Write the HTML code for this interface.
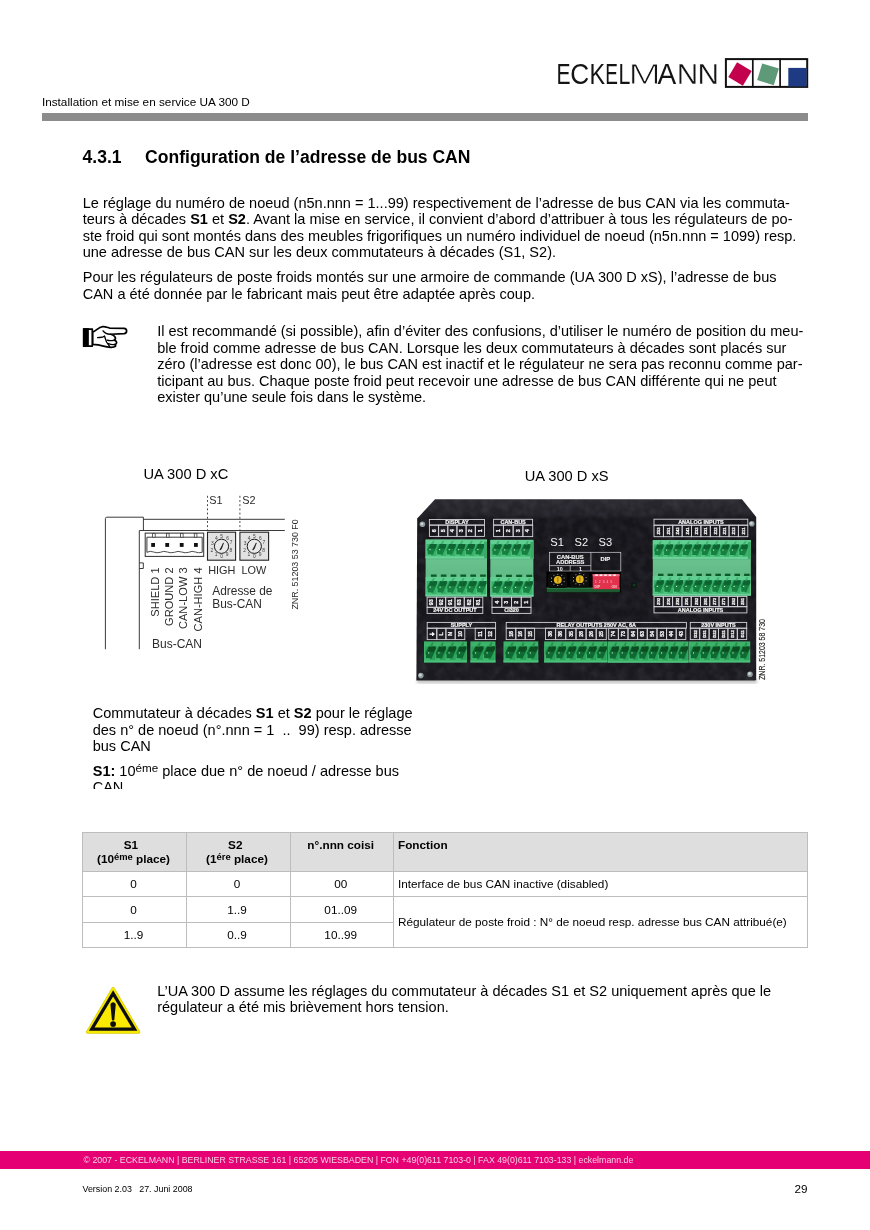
<!DOCTYPE html>
<html lang="fr"><head><meta charset="utf-8"><title>UA 300 D - Configuration de l'adresse de bus CAN</title>
<style>
html,body{margin:0;padding:0;background:#fff;}
body{width:870px;height:1230px;position:relative;overflow:hidden;font-family:"Liberation Sans",Arial,sans-serif;color:#000;}
.t{position:absolute;white-space:pre;line-height:16px;height:16px;}
b{font-weight:bold;}
.abs{position:absolute;}
sup.s{font-size:80%;vertical-align:baseline;position:relative;top:-0.36em;line-height:0;}
#page{position:absolute;left:0;top:0;width:870px;height:1230px;will-change:transform;}
</style></head><body><div id="page">
<div class="t" style="left:41.90px;top:93.82px;font-size:11.78px;">Installation et mise en service UA 300 D</div>
<div class="abs" style="left:41.5px;top:113.2px;width:766.5px;height:7.8px;background:#8c8c8c;"></div>
<svg class="abs" style="left:550px;top:50px;" width="270" height="45" viewBox="550 50 270 45" role="img" aria-label="ECKELMANN"><title>ECKELMANN</title>
<text y="84.1" font-family="Liberation Sans, Arial, sans-serif" font-size="29.0" fill="#141414"><tspan x="556.57" textLength="14.03" lengthAdjust="spacingAndGlyphs">E</tspan><tspan x="570.37" textLength="18.93" lengthAdjust="spacingAndGlyphs">C</tspan><tspan x="589.48" textLength="15.58" lengthAdjust="spacingAndGlyphs">K</tspan><tspan x="605.34" textLength="12.68" lengthAdjust="spacingAndGlyphs">E</tspan><tspan x="618.55" textLength="11.86" lengthAdjust="spacingAndGlyphs">L</tspan><tspan x="628.52" textLength="32.25" lengthAdjust="spacingAndGlyphs" stroke="#fff" stroke-width="0.8" paint-order="fill stroke">M</tspan><tspan x="657.55" textLength="18.71" lengthAdjust="spacingAndGlyphs">A</tspan><tspan x="676.86" textLength="21.46" lengthAdjust="spacingAndGlyphs" stroke="#fff" stroke-width="0.3" paint-order="fill stroke">N</tspan><tspan x="697.56" textLength="21.46" lengthAdjust="spacingAndGlyphs" stroke="#fff" stroke-width="0.3" paint-order="fill stroke">N</tspan></text>
<rect x="725.9" y="59.1" width="81.3" height="27.8" fill="#fff" stroke="#111" stroke-width="2"/>
<line x1="752.8" y1="58.5" x2="752.8" y2="87.5" stroke="#111" stroke-width="1.7"/>
<line x1="780.1" y1="58.5" x2="780.1" y2="87.5" stroke="#111" stroke-width="1.7"/>
<rect x="-8.5" y="-8.5" width="17" height="17" fill="#c2004c" transform="translate(740 74.0) rotate(31)"/>
<rect x="-8.7" y="-8.7" width="17.4" height="17.4" fill="#5e9a78" transform="translate(768 74.3) rotate(17)"/>
<rect x="788.3" y="67.9" width="18.2" height="18.6" fill="#1d3a82"/>
</svg>

<div class="t" style="left:82.60px;top:149.12px;font-size:17.55px;"><b>4.3.1</b></div>
<div class="t" style="left:145.10px;top:149.12px;font-size:17.55px;"><b>Configuration de l’adresse de bus CAN</b></div>
<div class="t" style="left:82.70px;top:194.66px;font-size:14.54px;">Le réglage du numéro de noeud (n5n.nnn = 1...99) respectivement de l’adresse de bus CAN via les commuta-</div>
<div class="t" style="left:82.70px;top:211.21px;font-size:14.54px;">teurs à décades <b>S1</b> et <b>S2</b>. Avant la mise en service, il convient d’abord d’attribuer à tous les régulateurs de po-</div>
<div class="t" style="left:82.70px;top:227.76px;font-size:14.54px;">ste froid qui sont montés dans des meubles frigorifiques un numéro individuel de noeud (n5n.nnn = 1099) resp.</div>
<div class="t" style="left:82.70px;top:244.31px;font-size:14.54px;">une adresse de bus CAN sur les deux commutateurs à décades (S1, S2).</div>
<div class="t" style="left:82.70px;top:269.36px;font-size:14.54px;">Pour les régulateurs de poste froids montés sur une armoire de commande (UA 300 D xS), l’adresse de bus</div>
<div class="t" style="left:82.70px;top:285.91px;font-size:14.54px;">CAN a été donnée par le fabricant mais peut être adaptée après coup.</div>
<div class="t" style="left:157.20px;top:323.26px;font-size:14.54px;">Il est recommandé (si possible), afin d’éviter des confusions, d’utiliser le numéro de position du meu-</div>
<div class="t" style="left:157.20px;top:339.81px;font-size:14.54px;">ble froid comme adresse de bus CAN. Lorsque les deux commutateurs à décades sont placés sur</div>
<div class="t" style="left:157.20px;top:356.36px;font-size:14.54px;">zéro (l’adresse est donc 00), le bus CAN est inactif et le régulateur ne sera pas reconnu comme par-</div>
<div class="t" style="left:157.20px;top:372.91px;font-size:14.54px;">ticipant au bus. Chaque poste froid peut recevoir une adresse de bus CAN différente qui ne peut</div>
<div class="t" style="left:157.20px;top:389.46px;font-size:14.54px;">exister qu’une seule fois dans le système.</div>
<svg class="abs" style="left:70px;top:310px;" width="100" height="60" viewBox="0 0 870 522">
<g fill="#fff" stroke="#000" stroke-width="15" stroke-linejoin="round" stroke-linecap="round">
<path d="M197 190 C225 185 245 150 285 145 C305 143 325 152 345 157 L470 160 C500 162 500 203 470 206 L355 211 C395 222 405 250 385 262 C412 270 412 295 390 300 C405 312 395 325 360 325 C320 326 280 305 197 300 Z"/>
<path d="M288 182 C300 200 325 212 355 211" fill="none" stroke-width="13"/>
<path d="M240 240 C265 238 285 240 300 228" fill="none" stroke-width="12"/>
<path d="M385 262 C360 268 340 268 325 262" fill="none" stroke-width="12"/>
<path d="M390 300 C370 303 350 300 335 292" fill="none" stroke-width="12"/>
<path d="M300 228 C305 250 315 285 345 318" fill="none" stroke-width="12"/>
<rect x="120" y="166" width="74" height="148"/>
</g>
<rect x="112" y="158" width="52" height="164" fill="#000"/>
</svg>

<div class="t" style="left:143.40px;top:465.81px;font-size:14.7px;">UA 300 D xC</div>
<div class="t" style="left:524.70px;top:467.92px;font-size:14.66px;">UA 300 D xS</div>
<svg class="abs" style="left:95px;top:485px;" width="215" height="175" viewBox="95 485 215 175" font-family="Liberation Sans, Arial, sans-serif">
<path d="M105.4 649.2 V518.6 Q105.4 517.2 106.8 517.2 H143.4 V530.5" stroke="#3a3a3a" stroke-width="1" fill="none"/>
<path d="M143.4 519.3 H284.8 M139.3 530.5 H284.8 M139.3 530.5 V649.2 M139.3 562.9 H143.3 V568.5 H139.3" stroke="#3a3a3a" stroke-width="1" fill="none"/>
<rect x="145.2" y="533.1" width="58.5" height="23.3" fill="#fff" stroke="#2e2e2e" stroke-width="1"/>
<path d="M146.9 552.4 V537.2 H202.2 V552.4" stroke="#3a3a3a" stroke-width="1" fill="none"/>
<path d="M146.9 552.3 Q150.2 550.6 153.6 552.0 T160.2 552.3 Q163.8 550.6 167.3 552.0 T174.4 552.3 Q178.0 550.6 181.6 552.0 T188.7 552.3 Q192.1 550.6 195.4 552.0 T202.2 552.3 " stroke="#3a3a3a" stroke-width="0.9" fill="none"/>
<rect x="152.6" y="533.6" width="2.6" height="3.6" fill="#fff" stroke="#3a3a3a" stroke-width="0.8"/>
<rect x="166.5" y="533.6" width="2.6" height="3.6" fill="#fff" stroke="#3a3a3a" stroke-width="0.8"/>
<rect x="180.5" y="533.6" width="2.6" height="3.6" fill="#fff" stroke="#3a3a3a" stroke-width="0.8"/>
<rect x="194.3" y="533.6" width="2.6" height="3.6" fill="#fff" stroke="#3a3a3a" stroke-width="0.8"/>
<rect x="151.2" y="543.0" width="3.8" height="3.9" fill="#111"/>
<rect x="165.3" y="543.0" width="3.8" height="3.9" fill="#111"/>
<rect x="179.8" y="543.0" width="3.8" height="3.9" fill="#111"/>
<rect x="194.0" y="543.0" width="3.8" height="3.9" fill="#111"/>
<line x1="207.5" y1="495.8" x2="207.5" y2="530.4" stroke="#333" stroke-width="0.9" stroke-dasharray="1.9 2.3"/>
<line x1="239.9" y1="495.8" x2="239.9" y2="530.4" stroke="#333" stroke-width="0.9" stroke-dasharray="1.9 2.3"/>
<rect x="207.5" y="532.2" width="28.1" height="28.0" fill="#e2e2e2" stroke="#222" stroke-width="1.1"/>
<circle cx="221.5" cy="546.3" r="7.1" fill="#e9e9e9" stroke="#1a1a1a" stroke-width="1"/>
<path d="M219.8 549.9 L223.5 542.9 L221.7 548.3 Q220.9 550.1 219.8 549.9 Z" fill="#111" stroke="#111" stroke-width="0.6" stroke-linejoin="round"/>
<text x="221.5" y="537.8" font-size="4.9" text-anchor="middle" fill="#3c3c3c">5</text>
<text x="216.4" y="539.7" font-size="4.9" text-anchor="middle" fill="#3c3c3c">4</text>
<text x="227.6" y="539.7" font-size="4.9" text-anchor="middle" fill="#3c3c3c">6</text>
<text x="212.3" y="544.5" font-size="4.9" text-anchor="middle" fill="#3c3c3c">3</text>
<text x="231.0" y="543.8" font-size="4.9" text-anchor="middle" fill="#3c3c3c">7</text>
<text x="211.8" y="551.9" font-size="4.9" text-anchor="middle" fill="#3c3c3c">2</text>
<text x="230.8" y="551.9" font-size="4.9" text-anchor="middle" fill="#3c3c3c">8</text>
<text x="216.1" y="556.2" font-size="4.9" text-anchor="middle" fill="#3c3c3c">1</text>
<text x="227.2" y="556.4" font-size="4.9" text-anchor="middle" fill="#3c3c3c">9</text>
<text x="221.5" y="558.4" font-size="4.9" text-anchor="middle" fill="#3c3c3c">0</text>
<rect x="239.9" y="532.2" width="28.7" height="28.0" fill="#e2e2e2" stroke="#222" stroke-width="1.1"/>
<circle cx="254.3" cy="546.3" r="7.1" fill="#e9e9e9" stroke="#1a1a1a" stroke-width="1"/>
<path d="M252.6 549.9 L256.3 542.9 L254.5 548.3 Q253.7 550.1 252.6 549.9 Z" fill="#111" stroke="#111" stroke-width="0.6" stroke-linejoin="round"/>
<text x="254.3" y="537.8" font-size="4.9" text-anchor="middle" fill="#3c3c3c">5</text>
<text x="249.2" y="539.7" font-size="4.9" text-anchor="middle" fill="#3c3c3c">4</text>
<text x="260.4" y="539.7" font-size="4.9" text-anchor="middle" fill="#3c3c3c">6</text>
<text x="245.1" y="544.5" font-size="4.9" text-anchor="middle" fill="#3c3c3c">3</text>
<text x="263.8" y="543.8" font-size="4.9" text-anchor="middle" fill="#3c3c3c">7</text>
<text x="244.6" y="551.9" font-size="4.9" text-anchor="middle" fill="#3c3c3c">2</text>
<text x="263.6" y="551.9" font-size="4.9" text-anchor="middle" fill="#3c3c3c">8</text>
<text x="248.9" y="556.2" font-size="4.9" text-anchor="middle" fill="#3c3c3c">1</text>
<text x="260.0" y="556.4" font-size="4.9" text-anchor="middle" fill="#3c3c3c">9</text>
<text x="254.3" y="558.4" font-size="4.9" text-anchor="middle" fill="#3c3c3c">0</text>
<text x="209.2" y="503.7" font-size="10.9" text-anchor="start" fill="#2b2b2b">S1</text>
<text x="242.2" y="503.7" font-size="10.9" text-anchor="start" fill="#2b2b2b">S2</text>
<text x="208.2" y="574.4" font-size="10.9" text-anchor="start" fill="#2b2b2b">HIGH</text>
<text x="241.4" y="574.4" font-size="10.9" text-anchor="start" fill="#2b2b2b">LOW</text>
<text x="212.3" y="595.4" font-size="11.9" text-anchor="start" fill="#2b2b2b">Adresse de</text>
<text x="212.3" y="607.8" font-size="11.9" text-anchor="start" fill="#2b2b2b">Bus-CAN</text>
<text x="152.0" y="647.6" font-size="12.0" text-anchor="start" fill="#2b2b2b">Bus-CAN</text>
<text transform="translate(158.6 567.4) rotate(-90)" font-size="11.1" text-anchor="end" fill="#2b2b2b">SHIELD 1</text>
<text transform="translate(173.1 567.4) rotate(-90)" font-size="11.1" text-anchor="end" fill="#2b2b2b">GROUND 2</text>
<text transform="translate(187.3 567.4) rotate(-90)" font-size="11.1" text-anchor="end" fill="#2b2b2b">CAN-LOW 3</text>
<text transform="translate(201.8 567.4) rotate(-90)" font-size="11.1" text-anchor="end" fill="#2b2b2b">CAN-HIGH 4</text>
<text transform="translate(298.2 609.6) rotate(-90)" font-size="9.1" textLength="90.3" lengthAdjust="spacingAndGlyphs" fill="#2b2b2b">ZNR. 51203 53 730 F0</text>
</svg>

<svg class="abs" style="left:405px;top:490px;" width="385" height="200" viewBox="405 490 385 200" font-family="Liberation Sans, Arial, sans-serif">
<defs>
<linearGradient id="pg" x1="0" y1="0" x2="0" y2="1"><stop offset="0" stop-color="#2a282f"/><stop offset="0.085" stop-color="#222027"/><stop offset="0.11" stop-color="#16151a"/><stop offset="0.6" stop-color="#17161b"/><stop offset="1" stop-color="#1b1a20"/></linearGradient>
<linearGradient id="gtop" x1="0" y1="0" x2="0" y2="1"><stop offset="0" stop-color="#56cb86"/><stop offset="0.25" stop-color="#3fb56d"/><stop offset="1" stop-color="#2f9f5c"/></linearGradient>
<linearGradient id="gmid" x1="0" y1="0" x2="0" y2="1"><stop offset="0" stop-color="#58b982"/><stop offset="0.12" stop-color="#69c18d"/><stop offset="1" stop-color="#62bc87"/></linearGradient>
<linearGradient id="gsh" x1="0" y1="0" x2="0" y2="1"><stop offset="0" stop-color="#0c4a26" stop-opacity="0"/><stop offset="1" stop-color="#0c4a26" stop-opacity="0.5"/></linearGradient>
<filter id="tx" x="0" y="0" width="100%" height="100%"><feTurbulence type="fractalNoise" baseFrequency="0.11" numOctaves="2" seed="7" result="n"/><feColorMatrix in="n" type="matrix" values="0 0 0 0 0.55  0 0 0 0 0.52  0 0 0 0 0.64  0.8 0.8 0 0 -0.62" result="c"/><feComposite in="c" in2="SourceGraphic" operator="in"/></filter>
<filter id="sh" x="-5%" y="-5%" width="110%" height="115%"><feGaussianBlur stdDeviation="1.6"/></filter>
<filter id="b1" x="-5%" y="-5%" width="110%" height="110%"><feGaussianBlur stdDeviation="0.35"/></filter>
</defs>
<path d="M417 679 H757 V683.5 H417 Z" fill="#9a9a9a" filter="url(#sh)" opacity="0.55"/>
<path d="M435 499.2 H742 L756.2 517 V679.2 Q756.2 680.6 754.8 680.6 H416.4 L417.2 518.6 Z" fill="url(#pg)"/>
<path d="M435 499.2 H742 L756.2 517 V679.2 Q756.2 680.6 754.8 680.6 H416.4 L417.2 518.6 Z" fill="#fff" filter="url(#tx)" opacity="0.16"/>
<g filter="url(#b1)">
<circle cx="422.4" cy="524.3" r="2.8" fill="#8d9a9c"/><circle cx="421.9" cy="523.6999999999999" r="1.5" fill="#c9d3d4"/>
<circle cx="751.8" cy="523.8" r="2.8" fill="#8d9a9c"/><circle cx="751.3" cy="523.1999999999999" r="1.5" fill="#c9d3d4"/>
<circle cx="750.0" cy="674.2" r="2.8" fill="#8d9a9c"/><circle cx="749.5" cy="673.6" r="1.5" fill="#c9d3d4"/>
<circle cx="420.8" cy="675.6" r="2.8" fill="#8d9a9c"/><circle cx="420.3" cy="675.0" r="1.5" fill="#c9d3d4"/>
<rect x="429.4" y="519.5" width="55.1" height="5.6" fill="none" stroke="#d2d2da" stroke-width="0.9"/>
<text x="456.9" y="524.2" font-size="5.5" font-weight="bold" text-anchor="middle" fill="#f6f6f6" stroke="#f6f6f6" stroke-width="0.2">DISPLAY</text>
<rect x="429.4" y="525.1" width="9.2" height="11.3" fill="none" stroke="#d2d2da" stroke-width="0.9"/>
<text transform="translate(435.7 530.8) rotate(-90)" font-size="5.3" font-weight="bold" text-anchor="middle" fill="#f6f6f6" stroke="#f6f6f6" stroke-width="0.25">6</text>
<rect x="438.6" y="525.1" width="9.2" height="11.3" fill="none" stroke="#d2d2da" stroke-width="0.9"/>
<text transform="translate(444.9 530.8) rotate(-90)" font-size="5.3" font-weight="bold" text-anchor="middle" fill="#f6f6f6" stroke="#f6f6f6" stroke-width="0.25">5</text>
<rect x="447.8" y="525.1" width="9.2" height="11.3" fill="none" stroke="#d2d2da" stroke-width="0.9"/>
<text transform="translate(454.1 530.8) rotate(-90)" font-size="5.3" font-weight="bold" text-anchor="middle" fill="#f6f6f6" stroke="#f6f6f6" stroke-width="0.25">4</text>
<rect x="456.9" y="525.1" width="9.2" height="11.3" fill="none" stroke="#d2d2da" stroke-width="0.9"/>
<text transform="translate(463.2 530.8) rotate(-90)" font-size="5.3" font-weight="bold" text-anchor="middle" fill="#f6f6f6" stroke="#f6f6f6" stroke-width="0.25">3</text>
<rect x="466.1" y="525.1" width="9.2" height="11.3" fill="none" stroke="#d2d2da" stroke-width="0.9"/>
<text transform="translate(472.4 530.8) rotate(-90)" font-size="5.3" font-weight="bold" text-anchor="middle" fill="#f6f6f6" stroke="#f6f6f6" stroke-width="0.25">2</text>
<rect x="475.3" y="525.1" width="9.2" height="11.3" fill="none" stroke="#d2d2da" stroke-width="0.9"/>
<text transform="translate(481.6 530.8) rotate(-90)" font-size="5.3" font-weight="bold" text-anchor="middle" fill="#f6f6f6" stroke="#f6f6f6" stroke-width="0.25">1</text>
<rect x="493.6" y="519.3" width="39.0" height="5.8" fill="none" stroke="#d2d2da" stroke-width="0.9"/>
<text x="513.1" y="524.2" font-size="5.5" font-weight="bold" text-anchor="middle" fill="#f6f6f6" stroke="#f6f6f6" stroke-width="0.2">CAN-BUS</text>
<rect x="493.6" y="525.1" width="9.8" height="11.5" fill="none" stroke="#d2d2da" stroke-width="0.9"/>
<text transform="translate(500.2 530.9) rotate(-90)" font-size="5.3" font-weight="bold" text-anchor="middle" fill="#f6f6f6" stroke="#f6f6f6" stroke-width="0.25">1</text>
<rect x="503.4" y="525.1" width="9.8" height="11.5" fill="none" stroke="#d2d2da" stroke-width="0.9"/>
<text transform="translate(509.9 530.9) rotate(-90)" font-size="5.3" font-weight="bold" text-anchor="middle" fill="#f6f6f6" stroke="#f6f6f6" stroke-width="0.25">2</text>
<rect x="513.1" y="525.1" width="9.8" height="11.5" fill="none" stroke="#d2d2da" stroke-width="0.9"/>
<text transform="translate(519.7 530.9) rotate(-90)" font-size="5.3" font-weight="bold" text-anchor="middle" fill="#f6f6f6" stroke="#f6f6f6" stroke-width="0.25">3</text>
<rect x="522.9" y="525.1" width="9.8" height="11.5" fill="none" stroke="#d2d2da" stroke-width="0.9"/>
<text transform="translate(529.4 530.9) rotate(-90)" font-size="5.3" font-weight="bold" text-anchor="middle" fill="#f6f6f6" stroke="#f6f6f6" stroke-width="0.25">4</text>
<rect x="425.6" y="539.6" width="61.4" height="56.7" fill="#64be89"/>
<rect x="425.6" y="539.6" width="61.4" height="18.8" fill="#62cf92"/>
<rect x="425.6" y="556.2" width="61.4" height="2.2" fill="#6ed39b"/>
<rect x="426.6" y="544.0" width="57.4" height="12.2" fill="#37b069"/>
<path d="M429.9 544.0 L436.5 544.0 L436.5 546.7 L432.9 554.7 L427.2 554.7 L427.2 549.6 Z" fill="#17803f"/>
<path d="M430.4 544.0 L436.5 544.0 L436.5 546.0 L434.6 548.9 L429.1 547.9 Z" fill="#0d6430"/>
<path d="M426.6 556.2 L426.6 551.6 L427.6 550.3 L427.6 554.5 L431.4 554.5 L430.6 556.2 Z" fill="#50c680"/>
<circle cx="430.0" cy="549.6" r="0.62" fill="#d6f5dd"/>
<path d="M431.0 544.1 L432.9 540.8 L434.6 540.8 L433.3 544.1 Z" fill="#3fb06d"/>
<path d="M439.4 544.0 L446.1 544.0 L446.1 546.7 L442.5 554.7 L436.7 554.7 L436.7 549.6 Z" fill="#17803f"/>
<path d="M440.0 544.0 L446.1 544.0 L446.1 546.0 L444.2 548.9 L438.7 547.9 Z" fill="#0d6430"/>
<path d="M436.2 556.2 L436.2 551.6 L437.1 550.3 L437.1 554.5 L441.0 554.5 L440.2 556.2 Z" fill="#50c680"/>
<circle cx="439.6" cy="549.6" r="0.62" fill="#d6f5dd"/>
<path d="M440.6 544.1 L442.5 540.8 L444.2 540.8 L442.9 544.1 Z" fill="#3fb06d"/>
<path d="M449.0 544.0 L455.7 544.0 L455.7 546.7 L452.0 554.7 L446.3 554.7 L446.3 549.6 Z" fill="#17803f"/>
<path d="M449.6 544.0 L455.7 544.0 L455.7 546.0 L453.8 548.9 L448.2 547.9 Z" fill="#0d6430"/>
<path d="M445.7 556.2 L445.7 551.6 L446.7 550.3 L446.7 554.5 L450.5 554.5 L449.8 556.2 Z" fill="#50c680"/>
<circle cx="449.2" cy="549.6" r="0.62" fill="#d6f5dd"/>
<path d="M450.1 544.1 L452.0 540.8 L453.8 540.8 L452.4 544.1 Z" fill="#3fb06d"/>
<path d="M458.6 544.0 L465.2 544.0 L465.2 546.7 L461.6 554.7 L455.9 554.7 L455.9 549.6 Z" fill="#17803f"/>
<path d="M459.1 544.0 L465.2 544.0 L465.2 546.0 L463.3 548.9 L457.8 547.9 Z" fill="#0d6430"/>
<path d="M455.3 556.2 L455.3 551.6 L456.3 550.3 L456.3 554.5 L460.1 554.5 L459.3 556.2 Z" fill="#50c680"/>
<circle cx="458.7" cy="549.6" r="0.62" fill="#d6f5dd"/>
<path d="M459.7 544.1 L461.6 540.8 L463.3 540.8 L462.0 544.1 Z" fill="#3fb06d"/>
<path d="M468.1 544.0 L474.8 544.0 L474.8 546.7 L471.2 554.7 L465.4 554.7 L465.4 549.6 Z" fill="#17803f"/>
<path d="M468.7 544.0 L474.8 544.0 L474.8 546.0 L472.9 548.9 L467.4 547.9 Z" fill="#0d6430"/>
<path d="M464.9 556.2 L464.9 551.6 L465.8 550.3 L465.8 554.5 L469.6 554.5 L468.9 556.2 Z" fill="#50c680"/>
<circle cx="468.3" cy="549.6" r="0.62" fill="#d6f5dd"/>
<path d="M469.3 544.1 L471.2 540.8 L472.9 540.8 L471.6 544.1 Z" fill="#3fb06d"/>
<path d="M477.7 544.0 L484.4 544.0 L484.4 546.7 L480.7 554.7 L475.0 554.7 L475.0 549.6 Z" fill="#17803f"/>
<path d="M478.3 544.0 L484.4 544.0 L484.4 546.0 L482.5 548.9 L476.9 547.9 Z" fill="#0d6430"/>
<path d="M474.4 556.2 L474.4 551.6 L475.4 550.3 L475.4 554.5 L479.2 554.5 L478.5 556.2 Z" fill="#50c680"/>
<circle cx="477.9" cy="549.6" r="0.62" fill="#d6f5dd"/>
<path d="M478.8 544.1 L480.7 540.8 L482.5 540.8 L481.1 544.1 Z" fill="#3fb06d"/>
<rect x="484.0" y="541.6" width="3.0" height="16.8" fill="#3aa968"/>
<rect x="426.0" y="558.4" width="60.6" height="16.1" fill="url(#gmid)"/>
<rect x="430.9" y="574.5" width="5.7" height="2.4" fill="#0d5a28"/>
<rect x="440.8" y="574.5" width="5.7" height="2.4" fill="#0d5a28"/>
<rect x="450.6" y="574.5" width="5.7" height="2.4" fill="#0d5a28"/>
<rect x="460.4" y="574.5" width="5.7" height="2.4" fill="#0d5a28"/>
<rect x="470.3" y="574.5" width="5.7" height="2.4" fill="#0d5a28"/>
<rect x="480.1" y="574.5" width="5.7" height="2.4" fill="#0d5a28"/>
<rect x="425.6" y="576.9" width="61.4" height="19.4" fill="#62cf92"/>
<rect x="425.6" y="594.4" width="61.4" height="1.9" fill="#6ed39b"/>
<rect x="426.6" y="581.1" width="59.4" height="13.3" fill="#37b069"/>
<path d="M430.0 581.1 L436.9 581.1 L436.9 584.0 L433.1 592.8 L427.2 592.8 L427.2 587.2 Z" fill="#17803f"/>
<path d="M430.6 581.1 L436.9 581.1 L436.9 583.2 L434.9 586.4 L429.2 585.4 Z" fill="#0d6430"/>
<path d="M426.6 594.4 L426.6 589.3 L427.6 588.0 L427.6 592.5 L431.6 592.5 L430.8 594.4 Z" fill="#50c680"/>
<circle cx="430.2" cy="587.2" r="0.62" fill="#d6f5dd"/>
<path d="M431.2 581.2 L433.1 578.1 L434.9 578.1 L433.5 581.2 Z" fill="#3fb06d"/>
<path d="M439.9 581.1 L446.8 581.1 L446.8 584.0 L443.0 592.8 L437.1 592.8 L437.1 587.2 Z" fill="#17803f"/>
<path d="M440.5 581.1 L446.8 581.1 L446.8 583.2 L444.8 586.4 L439.1 585.4 Z" fill="#0d6430"/>
<path d="M436.5 594.4 L436.5 589.3 L437.5 588.0 L437.5 592.5 L441.4 592.5 L440.7 594.4 Z" fill="#50c680"/>
<circle cx="440.1" cy="587.2" r="0.62" fill="#d6f5dd"/>
<path d="M441.1 581.2 L443.0 578.1 L444.8 578.1 L443.4 581.2 Z" fill="#3fb06d"/>
<path d="M449.8 581.1 L456.7 581.1 L456.7 584.0 L452.9 592.8 L447.0 592.8 L447.0 587.2 Z" fill="#17803f"/>
<path d="M450.4 581.1 L456.7 581.1 L456.7 583.2 L454.7 586.4 L449.0 585.4 Z" fill="#0d6430"/>
<path d="M446.4 594.4 L446.4 589.3 L447.4 588.0 L447.4 592.5 L451.4 592.5 L450.6 594.4 Z" fill="#50c680"/>
<circle cx="450.0" cy="587.2" r="0.62" fill="#d6f5dd"/>
<path d="M451.0 581.2 L452.9 578.1 L454.7 578.1 L453.3 581.2 Z" fill="#3fb06d"/>
<path d="M459.7 581.1 L466.6 581.1 L466.6 584.0 L462.8 592.8 L456.9 592.8 L456.9 587.2 Z" fill="#17803f"/>
<path d="M460.3 581.1 L466.6 581.1 L466.6 583.2 L464.6 586.4 L458.9 585.4 Z" fill="#0d6430"/>
<path d="M456.3 594.4 L456.3 589.3 L457.3 588.0 L457.3 592.5 L461.2 592.5 L460.5 594.4 Z" fill="#50c680"/>
<circle cx="459.9" cy="587.2" r="0.62" fill="#d6f5dd"/>
<path d="M460.9 581.2 L462.8 578.1 L464.6 578.1 L463.2 581.2 Z" fill="#3fb06d"/>
<path d="M469.6 581.1 L476.5 581.1 L476.5 584.0 L472.7 592.8 L466.8 592.8 L466.8 587.2 Z" fill="#17803f"/>
<path d="M470.2 581.1 L476.5 581.1 L476.5 583.2 L474.5 586.4 L468.8 585.4 Z" fill="#0d6430"/>
<path d="M466.2 594.4 L466.2 589.3 L467.2 588.0 L467.2 592.5 L471.1 592.5 L470.4 594.4 Z" fill="#50c680"/>
<circle cx="469.8" cy="587.2" r="0.62" fill="#d6f5dd"/>
<path d="M470.8 581.2 L472.7 578.1 L474.5 578.1 L473.1 581.2 Z" fill="#3fb06d"/>
<path d="M479.5 581.1 L486.4 581.1 L486.4 584.0 L482.6 592.8 L476.7 592.8 L476.7 587.2 Z" fill="#17803f"/>
<path d="M480.1 581.1 L486.4 581.1 L486.4 583.2 L484.4 586.4 L478.7 585.4 Z" fill="#0d6430"/>
<path d="M476.1 594.4 L476.1 589.3 L477.1 588.0 L477.1 592.5 L481.1 592.5 L480.3 594.4 Z" fill="#50c680"/>
<circle cx="479.7" cy="587.2" r="0.62" fill="#d6f5dd"/>
<path d="M480.7 581.2 L482.6 578.1 L484.4 578.1 L483.0 581.2 Z" fill="#3fb06d"/>
<rect x="490.4" y="539.9" width="43.0" height="56.6" fill="#64be89"/>
<rect x="490.4" y="539.9" width="43.0" height="18.8" fill="#62cf92"/>
<rect x="490.4" y="556.5" width="43.0" height="2.2" fill="#6ed39b"/>
<rect x="491.4" y="544.3" width="39.0" height="12.2" fill="#37b069"/>
<path d="M494.7 544.3 L501.5 544.3 L501.5 547.0 L497.8 555.0 L492.0 555.0 L492.0 549.9 Z" fill="#17803f"/>
<path d="M495.3 544.3 L501.5 544.3 L501.5 546.3 L499.6 549.2 L493.9 548.2 Z" fill="#0d6430"/>
<path d="M491.4 556.5 L491.4 551.9 L492.4 550.6 L492.4 554.8 L496.3 554.8 L495.5 556.5 Z" fill="#50c680"/>
<circle cx="494.9" cy="549.9" r="0.62" fill="#d6f5dd"/>
<path d="M495.9 544.4 L497.8 541.1 L499.6 541.1 L498.2 544.4 Z" fill="#3fb06d"/>
<path d="M504.5 544.3 L511.3 544.3 L511.3 547.0 L507.6 555.0 L501.7 555.0 L501.7 549.9 Z" fill="#17803f"/>
<path d="M505.0 544.3 L511.3 544.3 L511.3 546.3 L509.3 549.2 L503.7 548.2 Z" fill="#0d6430"/>
<path d="M501.1 556.5 L501.1 551.9 L502.1 550.6 L502.1 554.8 L506.0 554.8 L505.2 556.5 Z" fill="#50c680"/>
<circle cx="504.7" cy="549.9" r="0.62" fill="#d6f5dd"/>
<path d="M505.6 544.4 L507.6 541.1 L509.3 541.1 L508.0 544.4 Z" fill="#3fb06d"/>
<path d="M514.2 544.3 L521.0 544.3 L521.0 547.0 L517.3 555.0 L511.5 555.0 L511.5 549.9 Z" fill="#17803f"/>
<path d="M514.8 544.3 L521.0 544.3 L521.0 546.3 L519.1 549.2 L513.4 548.2 Z" fill="#0d6430"/>
<path d="M510.9 556.5 L510.9 551.9 L511.9 550.6 L511.9 554.8 L515.8 554.8 L515.0 556.5 Z" fill="#50c680"/>
<circle cx="514.4" cy="549.9" r="0.62" fill="#d6f5dd"/>
<path d="M515.4 544.4 L517.3 541.1 L519.1 541.1 L517.7 544.4 Z" fill="#3fb06d"/>
<path d="M524.0 544.3 L530.8 544.3 L530.8 547.0 L527.1 555.0 L521.2 555.0 L521.2 549.9 Z" fill="#17803f"/>
<path d="M524.5 544.3 L530.8 544.3 L530.8 546.3 L528.8 549.2 L523.2 548.2 Z" fill="#0d6430"/>
<path d="M520.6 556.5 L520.6 551.9 L521.6 550.6 L521.6 554.8 L525.5 554.8 L524.7 556.5 Z" fill="#50c680"/>
<circle cx="524.2" cy="549.9" r="0.62" fill="#d6f5dd"/>
<path d="M525.1 544.4 L527.1 541.1 L528.8 541.1 L527.5 544.4 Z" fill="#3fb06d"/>
<rect x="530.4" y="541.9" width="3.0" height="16.8" fill="#3aa968"/>
<rect x="490.8" y="558.7" width="42.2" height="16.0" fill="url(#gmid)"/>
<rect x="495.9" y="574.7" width="5.9" height="2.4" fill="#0d5a28"/>
<rect x="506.0" y="574.7" width="5.9" height="2.4" fill="#0d5a28"/>
<rect x="516.2" y="574.7" width="5.9" height="2.4" fill="#0d5a28"/>
<rect x="526.3" y="574.7" width="5.9" height="2.4" fill="#0d5a28"/>
<rect x="490.4" y="577.1" width="43.0" height="19.4" fill="#62cf92"/>
<rect x="490.4" y="594.6" width="43.0" height="1.9" fill="#6ed39b"/>
<rect x="491.4" y="581.3" width="41.0" height="13.3" fill="#37b069"/>
<path d="M494.9 581.3 L502.1 581.3 L502.1 584.2 L498.2 593.0 L492.0 593.0 L492.0 587.4 Z" fill="#17803f"/>
<path d="M495.5 581.3 L502.1 581.3 L502.1 583.4 L500.0 586.6 L494.1 585.6 Z" fill="#0d6430"/>
<path d="M491.4 594.6 L491.4 589.5 L492.4 588.2 L492.4 592.7 L496.5 592.7 L495.7 594.6 Z" fill="#50c680"/>
<circle cx="495.1" cy="587.4" r="0.62" fill="#d6f5dd"/>
<path d="M496.1 581.4 L498.2 578.3 L500.0 578.3 L498.6 581.4 Z" fill="#3fb06d"/>
<path d="M505.1 581.3 L512.3 581.3 L512.3 584.2 L508.4 593.0 L502.3 593.0 L502.3 587.4 Z" fill="#17803f"/>
<path d="M505.8 581.3 L512.3 581.3 L512.3 583.4 L510.3 586.6 L504.3 585.6 Z" fill="#0d6430"/>
<path d="M501.6 594.6 L501.6 589.5 L502.7 588.2 L502.7 592.7 L506.8 592.7 L506.0 594.6 Z" fill="#50c680"/>
<circle cx="505.3" cy="587.4" r="0.62" fill="#d6f5dd"/>
<path d="M506.4 581.4 L508.4 578.3 L510.3 578.3 L508.8 581.4 Z" fill="#3fb06d"/>
<path d="M515.4 581.3 L522.6 581.3 L522.6 584.2 L518.7 593.0 L512.5 593.0 L512.5 587.4 Z" fill="#17803f"/>
<path d="M516.0 581.3 L522.6 581.3 L522.6 583.4 L520.5 586.6 L514.6 585.6 Z" fill="#0d6430"/>
<path d="M511.9 594.6 L511.9 589.5 L512.9 588.2 L512.9 592.7 L517.0 592.7 L516.2 594.6 Z" fill="#50c680"/>
<circle cx="515.6" cy="587.4" r="0.62" fill="#d6f5dd"/>
<path d="M516.6 581.4 L518.7 578.3 L520.5 578.3 L519.1 581.4 Z" fill="#3fb06d"/>
<path d="M525.6 581.3 L532.8 581.3 L532.8 584.2 L528.9 593.0 L522.8 593.0 L522.8 587.4 Z" fill="#17803f"/>
<path d="M526.2 581.3 L532.8 581.3 L532.8 583.4 L530.8 586.6 L524.8 585.6 Z" fill="#0d6430"/>
<path d="M522.1 594.6 L522.1 589.5 L523.2 588.2 L523.2 592.7 L527.3 592.7 L526.5 594.6 Z" fill="#50c680"/>
<circle cx="525.8" cy="587.4" r="0.62" fill="#d6f5dd"/>
<path d="M526.9 581.4 L528.9 578.3 L530.8 578.3 L529.3 581.4 Z" fill="#3fb06d"/>
<rect x="427.1" y="607.3" width="55.7" height="6.1" fill="none" stroke="#d2d2da" stroke-width="0.9"/>
<text x="455.0" y="612.4" font-size="5.5" font-weight="bold" text-anchor="middle" fill="#f6f6f6" stroke="#f6f6f6" stroke-width="0.2">24V DC OUTPUT</text>
<rect x="427.1" y="597.2" width="9.3" height="10.1" fill="none" stroke="#d2d2da" stroke-width="0.9"/>
<text transform="translate(433.4 602.2) rotate(-90)" font-size="5.3" font-weight="bold" text-anchor="middle" fill="#f6f6f6" stroke="#f6f6f6" stroke-width="0.25">93</text>
<rect x="436.4" y="597.2" width="9.3" height="10.1" fill="none" stroke="#d2d2da" stroke-width="0.9"/>
<text transform="translate(442.7 602.2) rotate(-90)" font-size="5.3" font-weight="bold" text-anchor="middle" fill="#f6f6f6" stroke="#f6f6f6" stroke-width="0.25">92</text>
<rect x="445.7" y="597.2" width="9.3" height="10.1" fill="none" stroke="#d2d2da" stroke-width="0.9"/>
<text transform="translate(452.0 602.2) rotate(-90)" font-size="5.3" font-weight="bold" text-anchor="middle" fill="#f6f6f6" stroke="#f6f6f6" stroke-width="0.25">91</text>
<rect x="455.0" y="597.2" width="9.3" height="10.1" fill="none" stroke="#d2d2da" stroke-width="0.9"/>
<text transform="translate(461.3 602.2) rotate(-90)" font-size="5.3" font-weight="bold" text-anchor="middle" fill="#f6f6f6" stroke="#f6f6f6" stroke-width="0.25">83</text>
<rect x="464.2" y="597.2" width="9.3" height="10.1" fill="none" stroke="#d2d2da" stroke-width="0.9"/>
<text transform="translate(470.6 602.2) rotate(-90)" font-size="5.3" font-weight="bold" text-anchor="middle" fill="#f6f6f6" stroke="#f6f6f6" stroke-width="0.25">82</text>
<rect x="473.5" y="597.2" width="9.3" height="10.1" fill="none" stroke="#d2d2da" stroke-width="0.9"/>
<text transform="translate(479.9 602.2) rotate(-90)" font-size="5.3" font-weight="bold" text-anchor="middle" fill="#f6f6f6" stroke="#f6f6f6" stroke-width="0.25">81</text>
<rect x="492.0" y="607.3" width="39.0" height="6.1" fill="none" stroke="#d2d2da" stroke-width="0.9"/>
<text x="511.5" y="612.4" font-size="5.5" font-weight="bold" text-anchor="middle" fill="#f6f6f6" stroke="#f6f6f6" stroke-width="0.2">CI320</text>
<rect x="492.0" y="597.2" width="9.8" height="10.1" fill="none" stroke="#d2d2da" stroke-width="0.9"/>
<text transform="translate(498.6 602.2) rotate(-90)" font-size="5.3" font-weight="bold" text-anchor="middle" fill="#f6f6f6" stroke="#f6f6f6" stroke-width="0.25">4</text>
<rect x="501.8" y="597.2" width="9.8" height="10.1" fill="none" stroke="#d2d2da" stroke-width="0.9"/>
<text transform="translate(508.3 602.2) rotate(-90)" font-size="5.3" font-weight="bold" text-anchor="middle" fill="#f6f6f6" stroke="#f6f6f6" stroke-width="0.25">3</text>
<rect x="511.5" y="597.2" width="9.8" height="10.1" fill="none" stroke="#d2d2da" stroke-width="0.9"/>
<text transform="translate(518.1 602.2) rotate(-90)" font-size="5.3" font-weight="bold" text-anchor="middle" fill="#f6f6f6" stroke="#f6f6f6" stroke-width="0.25">2</text>
<rect x="521.2" y="597.2" width="9.8" height="10.1" fill="none" stroke="#d2d2da" stroke-width="0.9"/>
<text transform="translate(527.8 602.2) rotate(-90)" font-size="5.3" font-weight="bold" text-anchor="middle" fill="#f6f6f6" stroke="#f6f6f6" stroke-width="0.25">1</text>
<rect x="654.0" y="519.2" width="93.8" height="6.0" fill="none" stroke="#d2d2da" stroke-width="0.9"/>
<text x="700.9" y="524.3" font-size="5.5" font-weight="bold" text-anchor="middle" fill="#f6f6f6" stroke="#f6f6f6" stroke-width="0.2">ANALOG INPUTS</text>
<rect x="654.0" y="525.2" width="9.4" height="11.5" fill="none" stroke="#d2d2da" stroke-width="0.9"/>
<text transform="translate(660.4 531.0) rotate(-90)" font-size="4.2" font-weight="bold" text-anchor="middle" fill="#f6f6f6" stroke="#f6f6f6" stroke-width="0.25">Z52</text>
<rect x="663.4" y="525.2" width="9.4" height="11.5" fill="none" stroke="#d2d2da" stroke-width="0.9"/>
<text transform="translate(669.8 531.0) rotate(-90)" font-size="4.2" font-weight="bold" text-anchor="middle" fill="#f6f6f6" stroke="#f6f6f6" stroke-width="0.25">Z51</text>
<rect x="672.8" y="525.2" width="9.4" height="11.5" fill="none" stroke="#d2d2da" stroke-width="0.9"/>
<text transform="translate(679.2 531.0) rotate(-90)" font-size="4.2" font-weight="bold" text-anchor="middle" fill="#f6f6f6" stroke="#f6f6f6" stroke-width="0.25">Z42</text>
<rect x="682.1" y="525.2" width="9.4" height="11.5" fill="none" stroke="#d2d2da" stroke-width="0.9"/>
<text transform="translate(688.5 531.0) rotate(-90)" font-size="4.2" font-weight="bold" text-anchor="middle" fill="#f6f6f6" stroke="#f6f6f6" stroke-width="0.25">Z41</text>
<rect x="691.5" y="525.2" width="9.4" height="11.5" fill="none" stroke="#d2d2da" stroke-width="0.9"/>
<text transform="translate(697.9 531.0) rotate(-90)" font-size="4.2" font-weight="bold" text-anchor="middle" fill="#f6f6f6" stroke="#f6f6f6" stroke-width="0.25">Z32</text>
<rect x="700.9" y="525.2" width="9.4" height="11.5" fill="none" stroke="#d2d2da" stroke-width="0.9"/>
<text transform="translate(707.3 531.0) rotate(-90)" font-size="4.2" font-weight="bold" text-anchor="middle" fill="#f6f6f6" stroke="#f6f6f6" stroke-width="0.25">Z31</text>
<rect x="710.3" y="525.2" width="9.4" height="11.5" fill="none" stroke="#d2d2da" stroke-width="0.9"/>
<text transform="translate(716.7 531.0) rotate(-90)" font-size="4.2" font-weight="bold" text-anchor="middle" fill="#f6f6f6" stroke="#f6f6f6" stroke-width="0.25">Z22</text>
<rect x="719.7" y="525.2" width="9.4" height="11.5" fill="none" stroke="#d2d2da" stroke-width="0.9"/>
<text transform="translate(726.0 531.0) rotate(-90)" font-size="4.2" font-weight="bold" text-anchor="middle" fill="#f6f6f6" stroke="#f6f6f6" stroke-width="0.25">Z21</text>
<rect x="729.0" y="525.2" width="9.4" height="11.5" fill="none" stroke="#d2d2da" stroke-width="0.9"/>
<text transform="translate(735.4 531.0) rotate(-90)" font-size="4.2" font-weight="bold" text-anchor="middle" fill="#f6f6f6" stroke="#f6f6f6" stroke-width="0.25">Z12</text>
<rect x="738.4" y="525.2" width="9.4" height="11.5" fill="none" stroke="#d2d2da" stroke-width="0.9"/>
<text transform="translate(744.8 531.0) rotate(-90)" font-size="4.2" font-weight="bold" text-anchor="middle" fill="#f6f6f6" stroke="#f6f6f6" stroke-width="0.25">Z11</text>
<rect x="652.8" y="540.1" width="98.0" height="55.4" fill="#64be89"/>
<rect x="652.8" y="540.1" width="98.0" height="18.8" fill="#62cf92"/>
<rect x="652.8" y="556.7" width="98.0" height="2.2" fill="#6ed39b"/>
<rect x="653.8" y="544.5" width="94.0" height="12.2" fill="#37b069"/>
<path d="M657.0 544.5 L663.6 544.5 L663.6 547.2 L660.0 555.2 L654.4 555.2 L654.4 550.1 Z" fill="#17803f"/>
<path d="M657.6 544.5 L663.6 544.5 L663.6 546.5 L661.7 549.4 L656.2 548.4 Z" fill="#0d6430"/>
<path d="M653.8 556.7 L653.8 552.1 L654.7 550.8 L654.7 555.0 L658.5 555.0 L657.7 556.7 Z" fill="#50c680"/>
<circle cx="657.2" cy="550.1" r="0.62" fill="#d6f5dd"/>
<path d="M658.1 544.6 L660.0 541.3 L661.7 541.3 L660.4 544.6 Z" fill="#3fb06d"/>
<path d="M666.4 544.5 L673.0 544.5 L673.0 547.2 L669.4 555.2 L663.8 555.2 L663.8 550.1 Z" fill="#17803f"/>
<path d="M667.0 544.5 L673.0 544.5 L673.0 546.5 L671.1 549.4 L665.6 548.4 Z" fill="#0d6430"/>
<path d="M663.2 556.7 L663.2 552.1 L664.1 550.8 L664.1 555.0 L667.9 555.0 L667.1 556.7 Z" fill="#50c680"/>
<circle cx="666.6" cy="550.1" r="0.62" fill="#d6f5dd"/>
<path d="M667.5 544.6 L669.4 541.3 L671.1 541.3 L669.8 544.6 Z" fill="#3fb06d"/>
<path d="M675.8 544.5 L682.4 544.5 L682.4 547.2 L678.8 555.2 L673.2 555.2 L673.2 550.1 Z" fill="#17803f"/>
<path d="M676.4 544.5 L682.4 544.5 L682.4 546.5 L680.5 549.4 L675.0 548.4 Z" fill="#0d6430"/>
<path d="M672.6 556.7 L672.6 552.1 L673.5 550.8 L673.5 555.0 L677.3 555.0 L676.5 556.7 Z" fill="#50c680"/>
<circle cx="676.0" cy="550.1" r="0.62" fill="#d6f5dd"/>
<path d="M676.9 544.6 L678.8 541.3 L680.5 541.3 L679.2 544.6 Z" fill="#3fb06d"/>
<path d="M685.2 544.5 L691.8 544.5 L691.8 547.2 L688.2 555.2 L682.6 555.2 L682.6 550.1 Z" fill="#17803f"/>
<path d="M685.8 544.5 L691.8 544.5 L691.8 546.5 L689.9 549.4 L684.4 548.4 Z" fill="#0d6430"/>
<path d="M682.0 556.7 L682.0 552.1 L682.9 550.8 L682.9 555.0 L686.7 555.0 L685.9 556.7 Z" fill="#50c680"/>
<circle cx="685.4" cy="550.1" r="0.62" fill="#d6f5dd"/>
<path d="M686.3 544.6 L688.2 541.3 L689.9 541.3 L688.6 544.6 Z" fill="#3fb06d"/>
<path d="M694.6 544.5 L701.2 544.5 L701.2 547.2 L697.6 555.2 L692.0 555.2 L692.0 550.1 Z" fill="#17803f"/>
<path d="M695.2 544.5 L701.2 544.5 L701.2 546.5 L699.3 549.4 L693.8 548.4 Z" fill="#0d6430"/>
<path d="M691.4 556.7 L691.4 552.1 L692.3 550.8 L692.3 555.0 L696.1 555.0 L695.3 556.7 Z" fill="#50c680"/>
<circle cx="694.8" cy="550.1" r="0.62" fill="#d6f5dd"/>
<path d="M695.7 544.6 L697.6 541.3 L699.3 541.3 L698.0 544.6 Z" fill="#3fb06d"/>
<path d="M704.0 544.5 L710.6 544.5 L710.6 547.2 L707.0 555.2 L701.4 555.2 L701.4 550.1 Z" fill="#17803f"/>
<path d="M704.6 544.5 L710.6 544.5 L710.6 546.5 L708.7 549.4 L703.2 548.4 Z" fill="#0d6430"/>
<path d="M700.8 556.7 L700.8 552.1 L701.7 550.8 L701.7 555.0 L705.5 555.0 L704.7 556.7 Z" fill="#50c680"/>
<circle cx="704.2" cy="550.1" r="0.62" fill="#d6f5dd"/>
<path d="M705.1 544.6 L707.0 541.3 L708.7 541.3 L707.4 544.6 Z" fill="#3fb06d"/>
<path d="M713.4 544.5 L720.0 544.5 L720.0 547.2 L716.4 555.2 L710.8 555.2 L710.8 550.1 Z" fill="#17803f"/>
<path d="M714.0 544.5 L720.0 544.5 L720.0 546.5 L718.1 549.4 L712.6 548.4 Z" fill="#0d6430"/>
<path d="M710.2 556.7 L710.2 552.1 L711.1 550.8 L711.1 555.0 L714.9 555.0 L714.1 556.7 Z" fill="#50c680"/>
<circle cx="713.6" cy="550.1" r="0.62" fill="#d6f5dd"/>
<path d="M714.5 544.6 L716.4 541.3 L718.1 541.3 L716.8 544.6 Z" fill="#3fb06d"/>
<path d="M722.8 544.5 L729.4 544.5 L729.4 547.2 L725.8 555.2 L720.2 555.2 L720.2 550.1 Z" fill="#17803f"/>
<path d="M723.4 544.5 L729.4 544.5 L729.4 546.5 L727.5 549.4 L722.0 548.4 Z" fill="#0d6430"/>
<path d="M719.6 556.7 L719.6 552.1 L720.5 550.8 L720.5 555.0 L724.3 555.0 L723.5 556.7 Z" fill="#50c680"/>
<circle cx="723.0" cy="550.1" r="0.62" fill="#d6f5dd"/>
<path d="M723.9 544.6 L725.8 541.3 L727.5 541.3 L726.2 544.6 Z" fill="#3fb06d"/>
<path d="M732.2 544.5 L738.8 544.5 L738.8 547.2 L735.2 555.2 L729.6 555.2 L729.6 550.1 Z" fill="#17803f"/>
<path d="M732.8 544.5 L738.8 544.5 L738.8 546.5 L736.9 549.4 L731.4 548.4 Z" fill="#0d6430"/>
<path d="M729.0 556.7 L729.0 552.1 L729.9 550.8 L729.9 555.0 L733.7 555.0 L732.9 556.7 Z" fill="#50c680"/>
<circle cx="732.4" cy="550.1" r="0.62" fill="#d6f5dd"/>
<path d="M733.3 544.6 L735.2 541.3 L736.9 541.3 L735.6 544.6 Z" fill="#3fb06d"/>
<path d="M741.6 544.5 L748.2 544.5 L748.2 547.2 L744.6 555.2 L739.0 555.2 L739.0 550.1 Z" fill="#17803f"/>
<path d="M742.2 544.5 L748.2 544.5 L748.2 546.5 L746.3 549.4 L740.8 548.4 Z" fill="#0d6430"/>
<path d="M738.4 556.7 L738.4 552.1 L739.3 550.8 L739.3 555.0 L743.1 555.0 L742.3 556.7 Z" fill="#50c680"/>
<circle cx="741.8" cy="550.1" r="0.62" fill="#d6f5dd"/>
<path d="M742.7 544.6 L744.6 541.3 L746.3 541.3 L745.0 544.6 Z" fill="#3fb06d"/>
<rect x="747.8" y="542.1" width="3.0" height="16.8" fill="#3aa968"/>
<rect x="653.2" y="558.9" width="97.2" height="14.8" fill="url(#gmid)"/>
<rect x="658.0" y="573.7" width="5.5" height="2.4" fill="#0d5a28"/>
<rect x="667.6" y="573.7" width="5.5" height="2.4" fill="#0d5a28"/>
<rect x="677.1" y="573.7" width="5.5" height="2.4" fill="#0d5a28"/>
<rect x="686.7" y="573.7" width="5.5" height="2.4" fill="#0d5a28"/>
<rect x="696.3" y="573.7" width="5.5" height="2.4" fill="#0d5a28"/>
<rect x="705.8" y="573.7" width="5.5" height="2.4" fill="#0d5a28"/>
<rect x="715.4" y="573.7" width="5.5" height="2.4" fill="#0d5a28"/>
<rect x="724.9" y="573.7" width="5.5" height="2.4" fill="#0d5a28"/>
<rect x="734.5" y="573.7" width="5.5" height="2.4" fill="#0d5a28"/>
<rect x="744.1" y="573.7" width="5.5" height="2.4" fill="#0d5a28"/>
<rect x="652.8" y="576.1" width="98.0" height="19.4" fill="#62cf92"/>
<rect x="652.8" y="593.6" width="98.0" height="1.9" fill="#6ed39b"/>
<rect x="653.8" y="580.3" width="96.0" height="13.3" fill="#37b069"/>
<path d="M657.1 580.3 L663.8 580.3 L663.8 583.2 L660.1 592.0 L654.4 592.0 L654.4 586.4 Z" fill="#17803f"/>
<path d="M657.6 580.3 L663.8 580.3 L663.8 582.4 L661.9 585.6 L656.3 584.6 Z" fill="#0d6430"/>
<path d="M653.8 593.6 L653.8 588.5 L654.8 587.2 L654.8 591.7 L658.6 591.7 L657.8 593.6 Z" fill="#50c680"/>
<circle cx="657.3" cy="586.4" r="0.62" fill="#d6f5dd"/>
<path d="M658.2 580.4 L660.1 577.3 L661.9 577.3 L660.5 580.4 Z" fill="#3fb06d"/>
<path d="M666.7 580.3 L673.4 580.3 L673.4 583.2 L669.7 592.0 L664.0 592.0 L664.0 586.4 Z" fill="#17803f"/>
<path d="M667.2 580.3 L673.4 580.3 L673.4 582.4 L671.5 585.6 L665.9 584.6 Z" fill="#0d6430"/>
<path d="M663.4 593.6 L663.4 588.5 L664.4 587.2 L664.4 591.7 L668.2 591.7 L667.4 593.6 Z" fill="#50c680"/>
<circle cx="666.9" cy="586.4" r="0.62" fill="#d6f5dd"/>
<path d="M667.8 580.4 L669.7 577.3 L671.5 577.3 L670.1 580.4 Z" fill="#3fb06d"/>
<path d="M676.3 580.3 L683.0 580.3 L683.0 583.2 L679.3 592.0 L673.6 592.0 L673.6 586.4 Z" fill="#17803f"/>
<path d="M676.8 580.3 L683.0 580.3 L683.0 582.4 L681.1 585.6 L675.5 584.6 Z" fill="#0d6430"/>
<path d="M673.0 593.6 L673.0 588.5 L674.0 587.2 L674.0 591.7 L677.8 591.7 L677.0 593.6 Z" fill="#50c680"/>
<circle cx="676.5" cy="586.4" r="0.62" fill="#d6f5dd"/>
<path d="M677.4 580.4 L679.3 577.3 L681.1 577.3 L679.7 580.4 Z" fill="#3fb06d"/>
<path d="M685.9 580.3 L692.6 580.3 L692.6 583.2 L688.9 592.0 L683.2 592.0 L683.2 586.4 Z" fill="#17803f"/>
<path d="M686.4 580.3 L692.6 580.3 L692.6 582.4 L690.7 585.6 L685.1 584.6 Z" fill="#0d6430"/>
<path d="M682.6 593.6 L682.6 588.5 L683.6 587.2 L683.6 591.7 L687.4 591.7 L686.6 593.6 Z" fill="#50c680"/>
<circle cx="686.1" cy="586.4" r="0.62" fill="#d6f5dd"/>
<path d="M687.0 580.4 L688.9 577.3 L690.7 577.3 L689.3 580.4 Z" fill="#3fb06d"/>
<path d="M695.5 580.3 L702.2 580.3 L702.2 583.2 L698.5 592.0 L692.8 592.0 L692.8 586.4 Z" fill="#17803f"/>
<path d="M696.0 580.3 L702.2 580.3 L702.2 582.4 L700.3 585.6 L694.7 584.6 Z" fill="#0d6430"/>
<path d="M692.2 593.6 L692.2 588.5 L693.2 587.2 L693.2 591.7 L697.0 591.7 L696.2 593.6 Z" fill="#50c680"/>
<circle cx="695.7" cy="586.4" r="0.62" fill="#d6f5dd"/>
<path d="M696.6 580.4 L698.5 577.3 L700.3 577.3 L698.9 580.4 Z" fill="#3fb06d"/>
<path d="M705.1 580.3 L711.8 580.3 L711.8 583.2 L708.1 592.0 L702.4 592.0 L702.4 586.4 Z" fill="#17803f"/>
<path d="M705.6 580.3 L711.8 580.3 L711.8 582.4 L709.9 585.6 L704.3 584.6 Z" fill="#0d6430"/>
<path d="M701.8 593.6 L701.8 588.5 L702.8 587.2 L702.8 591.7 L706.6 591.7 L705.8 593.6 Z" fill="#50c680"/>
<circle cx="705.3" cy="586.4" r="0.62" fill="#d6f5dd"/>
<path d="M706.2 580.4 L708.1 577.3 L709.9 577.3 L708.5 580.4 Z" fill="#3fb06d"/>
<path d="M714.7 580.3 L721.4 580.3 L721.4 583.2 L717.7 592.0 L712.0 592.0 L712.0 586.4 Z" fill="#17803f"/>
<path d="M715.2 580.3 L721.4 580.3 L721.4 582.4 L719.5 585.6 L713.9 584.6 Z" fill="#0d6430"/>
<path d="M711.4 593.6 L711.4 588.5 L712.4 587.2 L712.4 591.7 L716.2 591.7 L715.4 593.6 Z" fill="#50c680"/>
<circle cx="714.9" cy="586.4" r="0.62" fill="#d6f5dd"/>
<path d="M715.8 580.4 L717.7 577.3 L719.5 577.3 L718.1 580.4 Z" fill="#3fb06d"/>
<path d="M724.3 580.3 L731.0 580.3 L731.0 583.2 L727.3 592.0 L721.6 592.0 L721.6 586.4 Z" fill="#17803f"/>
<path d="M724.8 580.3 L731.0 580.3 L731.0 582.4 L729.1 585.6 L723.5 584.6 Z" fill="#0d6430"/>
<path d="M721.0 593.6 L721.0 588.5 L722.0 587.2 L722.0 591.7 L725.8 591.7 L725.0 593.6 Z" fill="#50c680"/>
<circle cx="724.5" cy="586.4" r="0.62" fill="#d6f5dd"/>
<path d="M725.4 580.4 L727.3 577.3 L729.1 577.3 L727.7 580.4 Z" fill="#3fb06d"/>
<path d="M733.9 580.3 L740.6 580.3 L740.6 583.2 L736.9 592.0 L731.2 592.0 L731.2 586.4 Z" fill="#17803f"/>
<path d="M734.4 580.3 L740.6 580.3 L740.6 582.4 L738.7 585.6 L733.1 584.6 Z" fill="#0d6430"/>
<path d="M730.6 593.6 L730.6 588.5 L731.6 587.2 L731.6 591.7 L735.4 591.7 L734.6 593.6 Z" fill="#50c680"/>
<circle cx="734.1" cy="586.4" r="0.62" fill="#d6f5dd"/>
<path d="M735.0 580.4 L736.9 577.3 L738.7 577.3 L737.3 580.4 Z" fill="#3fb06d"/>
<path d="M743.5 580.3 L750.2 580.3 L750.2 583.2 L746.5 592.0 L740.8 592.0 L740.8 586.4 Z" fill="#17803f"/>
<path d="M744.0 580.3 L750.2 580.3 L750.2 582.4 L748.3 585.6 L742.7 584.6 Z" fill="#0d6430"/>
<path d="M740.2 593.6 L740.2 588.5 L741.2 587.2 L741.2 591.7 L745.0 591.7 L744.2 593.6 Z" fill="#50c680"/>
<circle cx="743.7" cy="586.4" r="0.62" fill="#d6f5dd"/>
<path d="M744.6 580.4 L746.5 577.3 L748.3 577.3 L746.9 580.4 Z" fill="#3fb06d"/>
<rect x="654.0" y="606.7" width="92.9" height="6.2" fill="none" stroke="#d2d2da" stroke-width="0.9"/>
<text x="700.5" y="611.9" font-size="5.5" font-weight="bold" text-anchor="middle" fill="#f6f6f6" stroke="#f6f6f6" stroke-width="0.2">ANALOG INPUTS</text>
<rect x="654.0" y="596.4" width="9.3" height="10.3" fill="none" stroke="#d2d2da" stroke-width="0.9"/>
<text transform="translate(660.3 601.5) rotate(-90)" font-size="4.2" font-weight="bold" text-anchor="middle" fill="#f6f6f6" stroke="#f6f6f6" stroke-width="0.25">Z02</text>
<rect x="663.3" y="596.4" width="9.3" height="10.3" fill="none" stroke="#d2d2da" stroke-width="0.9"/>
<text transform="translate(669.6 601.5) rotate(-90)" font-size="4.2" font-weight="bold" text-anchor="middle" fill="#f6f6f6" stroke="#f6f6f6" stroke-width="0.25">Z01</text>
<rect x="672.6" y="596.4" width="9.3" height="10.3" fill="none" stroke="#d2d2da" stroke-width="0.9"/>
<text transform="translate(678.9 601.5) rotate(-90)" font-size="4.2" font-weight="bold" text-anchor="middle" fill="#f6f6f6" stroke="#f6f6f6" stroke-width="0.25">Z92</text>
<rect x="681.9" y="596.4" width="9.3" height="10.3" fill="none" stroke="#d2d2da" stroke-width="0.9"/>
<text transform="translate(688.2 601.5) rotate(-90)" font-size="4.2" font-weight="bold" text-anchor="middle" fill="#f6f6f6" stroke="#f6f6f6" stroke-width="0.25">Z91</text>
<rect x="691.2" y="596.4" width="9.3" height="10.3" fill="none" stroke="#d2d2da" stroke-width="0.9"/>
<text transform="translate(697.5 601.5) rotate(-90)" font-size="4.2" font-weight="bold" text-anchor="middle" fill="#f6f6f6" stroke="#f6f6f6" stroke-width="0.25">Z82</text>
<rect x="700.5" y="596.4" width="9.3" height="10.3" fill="none" stroke="#d2d2da" stroke-width="0.9"/>
<text transform="translate(706.8 601.5) rotate(-90)" font-size="4.2" font-weight="bold" text-anchor="middle" fill="#f6f6f6" stroke="#f6f6f6" stroke-width="0.25">Z81</text>
<rect x="709.7" y="596.4" width="9.3" height="10.3" fill="none" stroke="#d2d2da" stroke-width="0.9"/>
<text transform="translate(716.1 601.5) rotate(-90)" font-size="4.2" font-weight="bold" text-anchor="middle" fill="#f6f6f6" stroke="#f6f6f6" stroke-width="0.25">Z72</text>
<rect x="719.0" y="596.4" width="9.3" height="10.3" fill="none" stroke="#d2d2da" stroke-width="0.9"/>
<text transform="translate(725.4 601.5) rotate(-90)" font-size="4.2" font-weight="bold" text-anchor="middle" fill="#f6f6f6" stroke="#f6f6f6" stroke-width="0.25">Z71</text>
<rect x="728.3" y="596.4" width="9.3" height="10.3" fill="none" stroke="#d2d2da" stroke-width="0.9"/>
<text transform="translate(734.7 601.5) rotate(-90)" font-size="4.2" font-weight="bold" text-anchor="middle" fill="#f6f6f6" stroke="#f6f6f6" stroke-width="0.25">Z62</text>
<rect x="737.6" y="596.4" width="9.3" height="10.3" fill="none" stroke="#d2d2da" stroke-width="0.9"/>
<text transform="translate(744.0 601.5) rotate(-90)" font-size="4.2" font-weight="bold" text-anchor="middle" fill="#f6f6f6" stroke="#f6f6f6" stroke-width="0.25">Z61</text>
<rect x="427.2" y="622.4" width="68.4" height="5.8" fill="none" stroke="#d2d2da" stroke-width="0.9"/>
<text x="461.4" y="627.3" font-size="5.5" font-weight="bold" text-anchor="middle" fill="#f6f6f6" stroke="#f6f6f6" stroke-width="0.2">SUPPLY</text>
<rect x="427.2" y="628.2" width="9.6" height="11.4" fill="none" stroke="#d2d2da" stroke-width="0.9"/>
<text transform="translate(433.7 633.9) rotate(-90)" font-size="5.3" font-weight="bold" text-anchor="middle" fill="#f6f6f6" stroke="#f6f6f6" stroke-width="0.25">⏚</text>
<rect x="436.8" y="628.2" width="9.1" height="11.4" fill="none" stroke="#d2d2da" stroke-width="0.9"/>
<text transform="translate(443.1 633.9) rotate(-90)" font-size="5.3" font-weight="bold" text-anchor="middle" fill="#f6f6f6" stroke="#f6f6f6" stroke-width="0.25">L</text>
<rect x="445.9" y="628.2" width="9.3" height="11.4" fill="none" stroke="#d2d2da" stroke-width="0.9"/>
<text transform="translate(452.2 633.9) rotate(-90)" font-size="5.3" font-weight="bold" text-anchor="middle" fill="#f6f6f6" stroke="#f6f6f6" stroke-width="0.25">N</text>
<rect x="455.2" y="628.2" width="9.6" height="11.4" fill="none" stroke="#d2d2da" stroke-width="0.9"/>
<text transform="translate(461.7 633.9) rotate(-90)" font-size="5.3" font-weight="bold" text-anchor="middle" fill="#f6f6f6" stroke="#f6f6f6" stroke-width="0.25">10</text>
<rect x="475.2" y="628.2" width="10.3" height="11.4" fill="none" stroke="#d2d2da" stroke-width="0.9"/>
<text transform="translate(482.1 633.9) rotate(-90)" font-size="5.3" font-weight="bold" text-anchor="middle" fill="#f6f6f6" stroke="#f6f6f6" stroke-width="0.25">11</text>
<rect x="485.5" y="628.2" width="10.1" height="11.4" fill="none" stroke="#d2d2da" stroke-width="0.9"/>
<text transform="translate(492.2 633.9) rotate(-90)" font-size="5.3" font-weight="bold" text-anchor="middle" fill="#f6f6f6" stroke="#f6f6f6" stroke-width="0.25">12</text>
<rect x="506.2" y="622.4" width="180.2" height="5.8" fill="none" stroke="#d2d2da" stroke-width="0.9"/>
<text x="596.3" y="627.3" font-size="5.5" font-weight="bold" text-anchor="middle" fill="#f6f6f6" stroke="#f6f6f6" stroke-width="0.2">RELAY OUTPUTS 250V AC, 6A</text>
<rect x="506.2" y="628.2" width="9.6" height="11.4" fill="none" stroke="#d2d2da" stroke-width="0.9"/>
<text transform="translate(512.7 633.9) rotate(-90)" font-size="5.3" font-weight="bold" text-anchor="middle" fill="#f6f6f6" stroke="#f6f6f6" stroke-width="0.25">18</text>
<rect x="515.8" y="628.2" width="9.4" height="11.4" fill="none" stroke="#d2d2da" stroke-width="0.9"/>
<text transform="translate(522.2 633.9) rotate(-90)" font-size="5.3" font-weight="bold" text-anchor="middle" fill="#f6f6f6" stroke="#f6f6f6" stroke-width="0.25">16</text>
<rect x="525.2" y="628.2" width="9.4" height="11.4" fill="none" stroke="#d2d2da" stroke-width="0.9"/>
<text transform="translate(531.6 633.9) rotate(-90)" font-size="5.3" font-weight="bold" text-anchor="middle" fill="#f6f6f6" stroke="#f6f6f6" stroke-width="0.25">15</text>
<rect x="545.5" y="628.2" width="10.1" height="11.4" fill="none" stroke="#d2d2da" stroke-width="0.9"/>
<text transform="translate(552.3 633.9) rotate(-90)" font-size="5.3" font-weight="bold" text-anchor="middle" fill="#f6f6f6" stroke="#f6f6f6" stroke-width="0.25">38</text>
<rect x="555.6" y="628.2" width="10.1" height="11.4" fill="none" stroke="#d2d2da" stroke-width="0.9"/>
<text transform="translate(562.4 633.9) rotate(-90)" font-size="5.3" font-weight="bold" text-anchor="middle" fill="#f6f6f6" stroke="#f6f6f6" stroke-width="0.25">36</text>
<rect x="565.8" y="628.2" width="10.2" height="11.4" fill="none" stroke="#d2d2da" stroke-width="0.9"/>
<text transform="translate(572.6 633.9) rotate(-90)" font-size="5.3" font-weight="bold" text-anchor="middle" fill="#f6f6f6" stroke="#f6f6f6" stroke-width="0.25">35</text>
<rect x="576.0" y="628.2" width="10.1" height="11.4" fill="none" stroke="#d2d2da" stroke-width="0.9"/>
<text transform="translate(582.7 633.9) rotate(-90)" font-size="5.3" font-weight="bold" text-anchor="middle" fill="#f6f6f6" stroke="#f6f6f6" stroke-width="0.25">28</text>
<rect x="586.1" y="628.2" width="10.1" height="11.4" fill="none" stroke="#d2d2da" stroke-width="0.9"/>
<text transform="translate(592.9 633.9) rotate(-90)" font-size="5.3" font-weight="bold" text-anchor="middle" fill="#f6f6f6" stroke="#f6f6f6" stroke-width="0.25">26</text>
<rect x="596.2" y="628.2" width="10.1" height="11.4" fill="none" stroke="#d2d2da" stroke-width="0.9"/>
<text transform="translate(603.0 633.9) rotate(-90)" font-size="5.3" font-weight="bold" text-anchor="middle" fill="#f6f6f6" stroke="#f6f6f6" stroke-width="0.25">25</text>
<rect x="608.7" y="628.2" width="9.6" height="11.4" fill="none" stroke="#d2d2da" stroke-width="0.9"/>
<text transform="translate(615.2 633.9) rotate(-90)" font-size="5.3" font-weight="bold" text-anchor="middle" fill="#f6f6f6" stroke="#f6f6f6" stroke-width="0.25">74</text>
<rect x="618.4" y="628.2" width="9.6" height="11.4" fill="none" stroke="#d2d2da" stroke-width="0.9"/>
<text transform="translate(624.9 633.9) rotate(-90)" font-size="5.3" font-weight="bold" text-anchor="middle" fill="#f6f6f6" stroke="#f6f6f6" stroke-width="0.25">73</text>
<rect x="628.0" y="628.2" width="9.6" height="11.4" fill="none" stroke="#d2d2da" stroke-width="0.9"/>
<text transform="translate(634.5 633.9) rotate(-90)" font-size="5.3" font-weight="bold" text-anchor="middle" fill="#f6f6f6" stroke="#f6f6f6" stroke-width="0.25">64</text>
<rect x="637.6" y="628.2" width="9.6" height="11.4" fill="none" stroke="#d2d2da" stroke-width="0.9"/>
<text transform="translate(644.2 633.9) rotate(-90)" font-size="5.3" font-weight="bold" text-anchor="middle" fill="#f6f6f6" stroke="#f6f6f6" stroke-width="0.25">63</text>
<rect x="647.3" y="628.2" width="9.7" height="11.4" fill="none" stroke="#d2d2da" stroke-width="0.9"/>
<text transform="translate(653.8 633.9) rotate(-90)" font-size="5.3" font-weight="bold" text-anchor="middle" fill="#f6f6f6" stroke="#f6f6f6" stroke-width="0.25">54</text>
<rect x="657.0" y="628.2" width="9.6" height="11.4" fill="none" stroke="#d2d2da" stroke-width="0.9"/>
<text transform="translate(663.5 633.9) rotate(-90)" font-size="5.3" font-weight="bold" text-anchor="middle" fill="#f6f6f6" stroke="#f6f6f6" stroke-width="0.25">53</text>
<rect x="666.6" y="628.2" width="9.6" height="11.4" fill="none" stroke="#d2d2da" stroke-width="0.9"/>
<text transform="translate(673.1 633.9) rotate(-90)" font-size="5.3" font-weight="bold" text-anchor="middle" fill="#f6f6f6" stroke="#f6f6f6" stroke-width="0.25">44</text>
<rect x="676.2" y="628.2" width="9.6" height="11.4" fill="none" stroke="#d2d2da" stroke-width="0.9"/>
<text transform="translate(682.8 633.9) rotate(-90)" font-size="5.3" font-weight="bold" text-anchor="middle" fill="#f6f6f6" stroke="#f6f6f6" stroke-width="0.25">43</text>
<rect x="690.3" y="622.4" width="56.4" height="5.8" fill="none" stroke="#d2d2da" stroke-width="0.9"/>
<text x="718.5" y="627.3" font-size="5.5" font-weight="bold" text-anchor="middle" fill="#f6f6f6" stroke="#f6f6f6" stroke-width="0.2">230V INPUTS</text>
<rect x="690.3" y="628.2" width="9.4" height="11.4" fill="none" stroke="#d2d2da" stroke-width="0.9"/>
<text transform="translate(696.7 633.9) rotate(-90)" font-size="4.2" font-weight="bold" text-anchor="middle" fill="#f6f6f6" stroke="#f6f6f6" stroke-width="0.25">D32</text>
<rect x="699.7" y="628.2" width="9.4" height="11.4" fill="none" stroke="#d2d2da" stroke-width="0.9"/>
<text transform="translate(706.1 633.9) rotate(-90)" font-size="4.2" font-weight="bold" text-anchor="middle" fill="#f6f6f6" stroke="#f6f6f6" stroke-width="0.25">D31</text>
<rect x="709.1" y="628.2" width="9.4" height="11.4" fill="none" stroke="#d2d2da" stroke-width="0.9"/>
<text transform="translate(715.5 633.9) rotate(-90)" font-size="4.2" font-weight="bold" text-anchor="middle" fill="#f6f6f6" stroke="#f6f6f6" stroke-width="0.25">D22</text>
<rect x="718.5" y="628.2" width="9.4" height="11.4" fill="none" stroke="#d2d2da" stroke-width="0.9"/>
<text transform="translate(724.9 633.9) rotate(-90)" font-size="4.2" font-weight="bold" text-anchor="middle" fill="#f6f6f6" stroke="#f6f6f6" stroke-width="0.25">D21</text>
<rect x="727.9" y="628.2" width="9.4" height="11.4" fill="none" stroke="#d2d2da" stroke-width="0.9"/>
<text transform="translate(734.3 633.9) rotate(-90)" font-size="4.2" font-weight="bold" text-anchor="middle" fill="#f6f6f6" stroke="#f6f6f6" stroke-width="0.25">D12</text>
<rect x="737.3" y="628.2" width="9.4" height="11.4" fill="none" stroke="#d2d2da" stroke-width="0.9"/>
<text transform="translate(743.7 633.9) rotate(-90)" font-size="4.2" font-weight="bold" text-anchor="middle" fill="#f6f6f6" stroke="#f6f6f6" stroke-width="0.25">D11</text>
<rect x="424.0" y="641.4" width="42.9" height="21.0" fill="#3db369"/>
<rect x="424.0" y="660.2" width="42.9" height="2.2" fill="#4cc079"/>
<rect x="425.0" y="646.6" width="40.9" height="13.6" fill="#2ba25b"/>
<path d="M428.5 646.6 L435.6 646.6 L435.6 649.6 L431.7 658.6 L425.6 658.6 L425.6 652.9 Z" fill="#106a30"/>
<path d="M429.1 646.6 L435.6 646.6 L435.6 648.8 L433.6 652.0 L427.7 651.0 Z" fill="#094d21"/>
<path d="M425.0 660.2 L425.0 655.0 L426.0 653.7 L426.0 658.3 L430.1 658.3 L429.3 660.2 Z" fill="#3fb86e"/>
<circle cx="428.7" cy="652.9" r="0.62" fill="#d6f5dd"/>
<path d="M429.7 646.7 L431.7 642.6 L433.6 642.6 L432.2 646.7 Z" fill="#258f4e"/>
<path d="M438.7 646.6 L445.9 646.6 L445.9 649.6 L442.0 658.6 L435.8 658.6 L435.8 652.9 Z" fill="#106a30"/>
<path d="M439.3 646.6 L445.9 646.6 L445.9 648.8 L443.8 652.0 L437.9 651.0 Z" fill="#094d21"/>
<path d="M435.2 660.2 L435.2 655.0 L436.2 653.7 L436.2 658.3 L440.3 658.3 L439.5 660.2 Z" fill="#3fb86e"/>
<circle cx="438.9" cy="652.9" r="0.62" fill="#d6f5dd"/>
<path d="M439.9 646.7 L442.0 642.6 L443.8 642.6 L442.4 646.7 Z" fill="#258f4e"/>
<path d="M448.9 646.6 L456.1 646.6 L456.1 649.6 L452.2 658.6 L446.1 658.6 L446.1 652.9 Z" fill="#106a30"/>
<path d="M449.5 646.6 L456.1 646.6 L456.1 648.8 L454.0 652.0 L448.1 651.0 Z" fill="#094d21"/>
<path d="M445.4 660.2 L445.4 655.0 L446.5 653.7 L446.5 658.3 L450.6 658.3 L449.7 660.2 Z" fill="#3fb86e"/>
<circle cx="449.1" cy="652.9" r="0.62" fill="#d6f5dd"/>
<path d="M450.2 646.7 L452.2 642.6 L454.0 642.6 L452.6 646.7 Z" fill="#258f4e"/>
<path d="M459.2 646.6 L466.3 646.6 L466.3 649.6 L462.4 658.6 L456.3 658.6 L456.3 652.9 Z" fill="#106a30"/>
<path d="M459.8 646.6 L466.3 646.6 L466.3 648.8 L464.3 652.0 L458.3 651.0 Z" fill="#094d21"/>
<path d="M455.7 660.2 L455.7 655.0 L456.7 653.7 L456.7 658.3 L460.8 658.3 L460.0 660.2 Z" fill="#3fb86e"/>
<circle cx="459.4" cy="652.9" r="0.62" fill="#d6f5dd"/>
<path d="M460.4 646.7 L462.4 642.6 L464.3 642.6 L462.8 646.7 Z" fill="#258f4e"/>
<rect x="470.4" y="641.4" width="25.1" height="21.0" fill="#3db369"/>
<rect x="470.4" y="660.2" width="25.1" height="2.2" fill="#4cc079"/>
<rect x="471.4" y="646.6" width="23.1" height="13.6" fill="#2ba25b"/>
<path d="M475.3 646.6 L483.4 646.6 L483.4 649.6 L479.0 658.6 L472.1 658.6 L472.1 652.9 Z" fill="#106a30"/>
<path d="M476.0 646.6 L483.4 646.6 L483.4 648.8 L481.1 652.0 L474.4 651.0 Z" fill="#094d21"/>
<path d="M471.4 660.2 L471.4 655.0 L472.6 653.7 L472.6 658.3 L477.2 658.3 L476.3 660.2 Z" fill="#3fb86e"/>
<circle cx="475.6" cy="652.9" r="0.62" fill="#d6f5dd"/>
<path d="M476.7 646.7 L479.0 642.6 L481.1 642.6 L479.5 646.7 Z" fill="#258f4e"/>
<path d="M486.9 646.6 L495.0 646.6 L495.0 649.6 L490.6 658.6 L483.6 658.6 L483.6 652.9 Z" fill="#106a30"/>
<path d="M487.6 646.6 L495.0 646.6 L495.0 648.8 L492.7 652.0 L486.0 651.0 Z" fill="#094d21"/>
<path d="M482.9 660.2 L482.9 655.0 L484.1 653.7 L484.1 658.3 L488.7 658.3 L487.8 660.2 Z" fill="#3fb86e"/>
<circle cx="487.1" cy="652.9" r="0.62" fill="#d6f5dd"/>
<path d="M488.3 646.7 L490.6 642.6 L492.7 642.6 L491.0 646.7 Z" fill="#258f4e"/>
<rect x="503.5" y="641.4" width="34.8" height="21.0" fill="#3db369"/>
<rect x="503.5" y="660.2" width="34.8" height="2.2" fill="#4cc079"/>
<rect x="504.5" y="646.6" width="32.8" height="13.6" fill="#2ba25b"/>
<path d="M508.2 646.6 L515.9 646.6 L515.9 649.6 L511.7 658.6 L505.2 658.6 L505.2 652.9 Z" fill="#106a30"/>
<path d="M508.9 646.6 L515.9 646.6 L515.9 648.8 L513.7 652.0 L507.3 651.0 Z" fill="#094d21"/>
<path d="M504.5 660.2 L504.5 655.0 L505.6 653.7 L505.6 658.3 L510.0 658.3 L509.1 660.2 Z" fill="#3fb86e"/>
<circle cx="508.4" cy="652.9" r="0.62" fill="#d6f5dd"/>
<path d="M509.5 646.7 L511.7 642.6 L513.7 642.6 L512.2 646.7 Z" fill="#258f4e"/>
<path d="M519.2 646.6 L526.8 646.6 L526.8 649.6 L522.6 658.6 L516.1 658.6 L516.1 652.9 Z" fill="#106a30"/>
<path d="M519.8 646.6 L526.8 646.6 L526.8 648.8 L524.6 652.0 L518.3 651.0 Z" fill="#094d21"/>
<path d="M515.4 660.2 L515.4 655.0 L516.5 653.7 L516.5 658.3 L520.9 658.3 L520.0 660.2 Z" fill="#3fb86e"/>
<circle cx="519.4" cy="652.9" r="0.62" fill="#d6f5dd"/>
<path d="M520.5 646.7 L522.6 642.6 L524.6 642.6 L523.1 646.7 Z" fill="#258f4e"/>
<path d="M530.1 646.6 L537.7 646.6 L537.7 649.6 L533.6 658.6 L527.0 658.6 L527.0 652.9 Z" fill="#106a30"/>
<path d="M530.7 646.6 L537.7 646.6 L537.7 648.8 L535.6 652.0 L529.2 651.0 Z" fill="#094d21"/>
<path d="M526.4 660.2 L526.4 655.0 L527.5 653.7 L527.5 658.3 L531.8 658.3 L531.0 660.2 Z" fill="#3fb86e"/>
<circle cx="530.3" cy="652.9" r="0.62" fill="#d6f5dd"/>
<path d="M531.4 646.7 L533.6 642.6 L535.6 642.6 L534.0 646.7 Z" fill="#258f4e"/>
<rect x="544.1" y="641.4" width="63.3" height="21.0" fill="#3db369"/>
<rect x="544.1" y="660.2" width="63.3" height="2.2" fill="#4cc079"/>
<rect x="545.1" y="646.6" width="61.3" height="13.6" fill="#2ba25b"/>
<path d="M548.6 646.6 L555.7 646.6 L555.7 649.6 L551.8 658.6 L545.7 658.6 L545.7 652.9 Z" fill="#106a30"/>
<path d="M549.2 646.6 L555.7 646.6 L555.7 648.8 L553.7 652.0 L547.8 651.0 Z" fill="#094d21"/>
<path d="M545.1 660.2 L545.1 655.0 L546.1 653.7 L546.1 658.3 L550.2 658.3 L549.4 660.2 Z" fill="#3fb86e"/>
<circle cx="548.8" cy="652.9" r="0.62" fill="#d6f5dd"/>
<path d="M549.8 646.7 L551.8 642.6 L553.7 642.6 L552.3 646.7 Z" fill="#258f4e"/>
<path d="M558.8 646.6 L565.9 646.6 L565.9 649.6 L562.1 658.6 L555.9 658.6 L555.9 652.9 Z" fill="#106a30"/>
<path d="M559.4 646.6 L565.9 646.6 L565.9 648.8 L563.9 652.0 L558.0 651.0 Z" fill="#094d21"/>
<path d="M555.3 660.2 L555.3 655.0 L556.3 653.7 L556.3 658.3 L560.4 658.3 L559.6 660.2 Z" fill="#3fb86e"/>
<circle cx="559.0" cy="652.9" r="0.62" fill="#d6f5dd"/>
<path d="M560.0 646.7 L562.1 642.6 L563.9 642.6 L562.5 646.7 Z" fill="#258f4e"/>
<path d="M569.0 646.6 L576.2 646.6 L576.2 649.6 L572.3 658.6 L566.1 658.6 L566.1 652.9 Z" fill="#106a30"/>
<path d="M569.6 646.6 L576.2 646.6 L576.2 648.8 L574.1 652.0 L568.2 651.0 Z" fill="#094d21"/>
<path d="M565.5 660.2 L565.5 655.0 L566.6 653.7 L566.6 658.3 L570.6 658.3 L569.8 660.2 Z" fill="#3fb86e"/>
<circle cx="569.2" cy="652.9" r="0.62" fill="#d6f5dd"/>
<path d="M570.2 646.7 L572.3 642.6 L574.1 642.6 L572.7 646.7 Z" fill="#258f4e"/>
<path d="M579.2 646.6 L586.4 646.6 L586.4 649.6 L582.5 658.6 L576.4 658.6 L576.4 652.9 Z" fill="#106a30"/>
<path d="M579.8 646.6 L586.4 646.6 L586.4 648.8 L584.3 652.0 L578.4 651.0 Z" fill="#094d21"/>
<path d="M575.8 660.2 L575.8 655.0 L576.8 653.7 L576.8 658.3 L580.9 658.3 L580.0 660.2 Z" fill="#3fb86e"/>
<circle cx="579.4" cy="652.9" r="0.62" fill="#d6f5dd"/>
<path d="M580.4 646.7 L582.5 642.6 L584.3 642.6 L582.9 646.7 Z" fill="#258f4e"/>
<path d="M589.4 646.6 L596.6 646.6 L596.6 649.6 L592.7 658.6 L586.6 658.6 L586.6 652.9 Z" fill="#106a30"/>
<path d="M590.1 646.6 L596.6 646.6 L596.6 648.8 L594.5 652.0 L588.6 651.0 Z" fill="#094d21"/>
<path d="M586.0 660.2 L586.0 655.0 L587.0 653.7 L587.0 658.3 L591.1 658.3 L590.3 660.2 Z" fill="#3fb86e"/>
<circle cx="589.6" cy="652.9" r="0.62" fill="#d6f5dd"/>
<path d="M590.7 646.7 L592.7 642.6 L594.5 642.6 L593.1 646.7 Z" fill="#258f4e"/>
<path d="M599.7 646.6 L606.8 646.6 L606.8 649.6 L602.9 658.6 L596.8 658.6 L596.8 652.9 Z" fill="#106a30"/>
<path d="M600.3 646.6 L606.8 646.6 L606.8 648.8 L604.8 652.0 L598.8 651.0 Z" fill="#094d21"/>
<path d="M596.2 660.2 L596.2 655.0 L597.2 653.7 L597.2 658.3 L601.3 658.3 L600.5 660.2 Z" fill="#3fb86e"/>
<circle cx="599.9" cy="652.9" r="0.62" fill="#d6f5dd"/>
<path d="M600.9 646.7 L602.9 642.6 L604.8 642.6 L603.3 646.7 Z" fill="#258f4e"/>
<rect x="607.8" y="641.4" width="80.7" height="21.2" fill="#3db369"/>
<rect x="607.8" y="660.4" width="80.7" height="2.2" fill="#4cc079"/>
<rect x="608.8" y="646.6" width="78.7" height="13.8" fill="#2ba25b"/>
<path d="M612.1 646.6 L619.0 646.6 L619.0 649.6 L615.3 658.7 L609.4 658.7 L609.4 652.9 Z" fill="#106a30"/>
<path d="M612.7 646.6 L619.0 646.6 L619.0 648.8 L617.1 652.1 L611.4 651.0 Z" fill="#094d21"/>
<path d="M608.8 660.4 L608.8 655.2 L609.8 653.8 L609.8 658.5 L613.7 658.5 L612.9 660.4 Z" fill="#3fb86e"/>
<circle cx="612.3" cy="652.9" r="0.62" fill="#d6f5dd"/>
<path d="M613.3 646.7 L615.3 642.6 L617.1 642.6 L615.7 646.7 Z" fill="#258f4e"/>
<path d="M622.0 646.6 L628.9 646.6 L628.9 649.6 L625.1 658.7 L619.2 658.7 L619.2 652.9 Z" fill="#106a30"/>
<path d="M622.6 646.6 L628.9 646.6 L628.9 648.8 L626.9 652.1 L621.2 651.0 Z" fill="#094d21"/>
<path d="M618.6 660.4 L618.6 655.2 L619.6 653.8 L619.6 658.5 L623.6 658.5 L622.8 660.4 Z" fill="#3fb86e"/>
<circle cx="622.2" cy="652.9" r="0.62" fill="#d6f5dd"/>
<path d="M623.2 646.7 L625.1 642.6 L626.9 642.6 L625.5 646.7 Z" fill="#258f4e"/>
<path d="M631.8 646.6 L638.7 646.6 L638.7 649.6 L635.0 658.7 L629.1 658.7 L629.1 652.9 Z" fill="#106a30"/>
<path d="M632.4 646.6 L638.7 646.6 L638.7 648.8 L636.7 652.1 L631.0 651.0 Z" fill="#094d21"/>
<path d="M628.5 660.4 L628.5 655.2 L629.5 653.8 L629.5 658.5 L633.4 658.5 L632.6 660.4 Z" fill="#3fb86e"/>
<circle cx="632.0" cy="652.9" r="0.62" fill="#d6f5dd"/>
<path d="M633.0 646.7 L635.0 642.6 L636.7 642.6 L635.4 646.7 Z" fill="#258f4e"/>
<path d="M641.7 646.6 L648.5 646.6 L648.5 649.6 L644.8 658.7 L638.9 658.7 L638.9 652.9 Z" fill="#106a30"/>
<path d="M642.2 646.6 L648.5 646.6 L648.5 648.8 L646.6 652.1 L640.9 651.0 Z" fill="#094d21"/>
<path d="M638.3 660.4 L638.3 655.2 L639.3 653.8 L639.3 658.5 L643.2 658.5 L642.4 660.4 Z" fill="#3fb86e"/>
<circle cx="641.9" cy="652.9" r="0.62" fill="#d6f5dd"/>
<path d="M642.8 646.7 L644.8 642.6 L646.6 642.6 L645.2 646.7 Z" fill="#258f4e"/>
<path d="M651.5 646.6 L658.4 646.6 L658.4 649.6 L654.6 658.7 L648.7 658.7 L648.7 652.9 Z" fill="#106a30"/>
<path d="M652.1 646.6 L658.4 646.6 L658.4 648.8 L656.4 652.1 L650.7 651.0 Z" fill="#094d21"/>
<path d="M648.1 660.4 L648.1 655.2 L649.1 653.8 L649.1 658.5 L653.1 658.5 L652.3 660.4 Z" fill="#3fb86e"/>
<circle cx="651.7" cy="652.9" r="0.62" fill="#d6f5dd"/>
<path d="M652.7 646.7 L654.6 642.6 L656.4 642.6 L655.0 646.7 Z" fill="#258f4e"/>
<path d="M661.3 646.6 L668.2 646.6 L668.2 649.6 L664.5 658.7 L658.6 658.7 L658.6 652.9 Z" fill="#106a30"/>
<path d="M661.9 646.6 L668.2 646.6 L668.2 648.8 L666.3 652.1 L660.5 651.0 Z" fill="#094d21"/>
<path d="M658.0 660.4 L658.0 655.2 L659.0 653.8 L659.0 658.5 L662.9 658.5 L662.1 660.4 Z" fill="#3fb86e"/>
<circle cx="661.5" cy="652.9" r="0.62" fill="#d6f5dd"/>
<path d="M662.5 646.7 L664.5 642.6 L666.3 642.6 L664.9 646.7 Z" fill="#258f4e"/>
<path d="M671.2 646.6 L678.1 646.6 L678.1 649.6 L674.3 658.7 L668.4 658.7 L668.4 652.9 Z" fill="#106a30"/>
<path d="M671.8 646.6 L678.1 646.6 L678.1 648.8 L676.1 652.1 L670.4 651.0 Z" fill="#094d21"/>
<path d="M667.8 660.4 L667.8 655.2 L668.8 653.8 L668.8 658.5 L672.7 658.5 L672.0 660.4 Z" fill="#3fb86e"/>
<circle cx="671.4" cy="652.9" r="0.62" fill="#d6f5dd"/>
<path d="M672.4 646.7 L674.3 642.6 L676.1 642.6 L674.7 646.7 Z" fill="#258f4e"/>
<path d="M681.0 646.6 L687.9 646.6 L687.9 649.6 L684.2 658.7 L678.3 658.7 L678.3 652.9 Z" fill="#106a30"/>
<path d="M681.6 646.6 L687.9 646.6 L687.9 648.8 L685.9 652.1 L680.2 651.0 Z" fill="#094d21"/>
<path d="M677.7 660.4 L677.7 655.2 L678.6 653.8 L678.6 658.5 L682.6 658.5 L681.8 660.4 Z" fill="#3fb86e"/>
<circle cx="681.2" cy="652.9" r="0.62" fill="#d6f5dd"/>
<path d="M682.2 646.7 L684.2 642.6 L685.9 642.6 L684.5 646.7 Z" fill="#258f4e"/>
<rect x="688.9" y="641.4" width="61.3" height="21.0" fill="#3db369"/>
<rect x="688.9" y="660.2" width="61.3" height="2.2" fill="#4cc079"/>
<rect x="689.9" y="646.6" width="59.3" height="13.6" fill="#2ba25b"/>
<path d="M693.3 646.6 L700.2 646.6 L700.2 649.6 L696.4 658.6 L690.5 658.6 L690.5 652.9 Z" fill="#106a30"/>
<path d="M693.9 646.6 L700.2 646.6 L700.2 648.8 L698.2 652.0 L692.5 651.0 Z" fill="#094d21"/>
<path d="M689.9 660.2 L689.9 655.0 L690.9 653.7 L690.9 658.3 L694.8 658.3 L694.1 660.2 Z" fill="#3fb86e"/>
<circle cx="693.5" cy="652.9" r="0.62" fill="#d6f5dd"/>
<path d="M694.4 646.7 L696.4 642.6 L698.2 642.6 L696.8 646.7 Z" fill="#258f4e"/>
<path d="M703.1 646.6 L710.1 646.6 L710.1 649.6 L706.3 658.6 L700.4 658.6 L700.4 652.9 Z" fill="#106a30"/>
<path d="M703.7 646.6 L710.1 646.6 L710.1 648.8 L708.1 652.0 L702.4 651.0 Z" fill="#094d21"/>
<path d="M699.8 660.2 L699.8 655.0 L700.8 653.7 L700.8 658.3 L704.7 658.3 L703.9 660.2 Z" fill="#3fb86e"/>
<circle cx="703.3" cy="652.9" r="0.62" fill="#d6f5dd"/>
<path d="M704.3 646.7 L706.3 642.6 L708.1 642.6 L706.7 646.7 Z" fill="#258f4e"/>
<path d="M713.0 646.6 L719.9 646.6 L719.9 649.6 L716.2 658.6 L710.3 658.6 L710.3 652.9 Z" fill="#106a30"/>
<path d="M713.6 646.6 L719.9 646.6 L719.9 648.8 L718.0 652.0 L712.2 651.0 Z" fill="#094d21"/>
<path d="M709.7 660.2 L709.7 655.0 L710.7 653.7 L710.7 658.3 L714.6 658.3 L713.8 660.2 Z" fill="#3fb86e"/>
<circle cx="713.2" cy="652.9" r="0.62" fill="#d6f5dd"/>
<path d="M714.2 646.7 L716.2 642.6 L718.0 642.6 L716.6 646.7 Z" fill="#258f4e"/>
<path d="M722.9 646.6 L729.8 646.6 L729.8 649.6 L726.1 658.6 L720.1 658.6 L720.1 652.9 Z" fill="#106a30"/>
<path d="M723.5 646.6 L729.8 646.6 L729.8 648.8 L727.9 652.0 L722.1 651.0 Z" fill="#094d21"/>
<path d="M719.5 660.2 L719.5 655.0 L720.5 653.7 L720.5 658.3 L724.5 658.3 L723.7 660.2 Z" fill="#3fb86e"/>
<circle cx="723.1" cy="652.9" r="0.62" fill="#d6f5dd"/>
<path d="M724.1 646.7 L726.1 642.6 L727.9 642.6 L726.5 646.7 Z" fill="#258f4e"/>
<path d="M732.8 646.6 L739.7 646.6 L739.7 649.6 L736.0 658.6 L730.0 658.6 L730.0 652.9 Z" fill="#106a30"/>
<path d="M733.4 646.6 L739.7 646.6 L739.7 648.8 L737.7 652.0 L732.0 651.0 Z" fill="#094d21"/>
<path d="M729.4 660.2 L729.4 655.0 L730.4 653.7 L730.4 658.3 L734.4 658.3 L733.6 660.2 Z" fill="#3fb86e"/>
<circle cx="733.0" cy="652.9" r="0.62" fill="#d6f5dd"/>
<path d="M734.0 646.7 L736.0 642.6 L737.7 642.6 L736.4 646.7 Z" fill="#258f4e"/>
<path d="M742.7 646.6 L749.6 646.6 L749.6 649.6 L745.8 658.6 L739.9 658.6 L739.9 652.9 Z" fill="#106a30"/>
<path d="M743.3 646.6 L749.6 646.6 L749.6 648.8 L747.6 652.0 L741.9 651.0 Z" fill="#094d21"/>
<path d="M739.3 660.2 L739.3 655.0 L740.3 653.7 L740.3 658.3 L744.3 658.3 L743.5 660.2 Z" fill="#3fb86e"/>
<circle cx="742.9" cy="652.9" r="0.62" fill="#d6f5dd"/>
<path d="M743.9 646.7 L745.8 642.6 L747.6 642.6 L746.2 646.7 Z" fill="#258f4e"/>
<text x="550.3" y="545.9" font-size="11.1" fill="#f4f4f4">S1</text>
<text x="574.6" y="545.9" font-size="11.1" fill="#f4f4f4">S2</text>
<text x="598.6" y="545.9" font-size="11.1" fill="#f4f4f4">S3</text>
<rect x="549.5" y="552.3" width="71.3" height="18.8" fill="none" stroke="#d2d2da" stroke-width="0.7"/>
<path d="M590.9 552.3 V571.1 M549.5 565.6 H590.9 M570.2 565.6 V571.1" fill="none" stroke="#d2d2da" stroke-width="0.7"/>
<text x="570.2" y="558.5" font-size="5.8" font-weight="bold" text-anchor="middle" fill="#f4f4f4" stroke="#f4f4f4" stroke-width="0.15">CAN-BUS</text>
<text x="570.2" y="564.0" font-size="5.8" font-weight="bold" text-anchor="middle" fill="#f4f4f4" stroke="#f4f4f4" stroke-width="0.15">ADDRESS</text>
<text x="559.8" y="570.5" font-size="5.4" font-weight="bold" text-anchor="middle" fill="#f2f2f2">10</text>
<text x="580.5" y="570.5" font-size="5.4" font-weight="bold" text-anchor="middle" fill="#f2f2f2">1</text>
<text x="605.3" y="560.8" font-size="5.8" font-weight="bold" text-anchor="middle" fill="#f4f4f4" stroke="#f4f4f4" stroke-width="0.15">DIP</text>
<rect x="546.4" y="571.6" width="74.6" height="21.0" fill="#050505"/>
<rect x="546.7" y="587.7" width="73.2" height="4.6" fill="#1b5a31"/>
<rect x="546.7" y="587.7" width="73.2" height="1.2" fill="#2f7d49"/>
<rect x="548.5" y="573.4" width="18.6" height="14.6" rx="2" fill="#101010"/>
<circle cx="564.1" cy="581.5" r="0.55" fill="#b5b5b5"/>
<circle cx="561.7" cy="584.3" r="0.55" fill="#b5b5b5"/>
<circle cx="557.8" cy="585.4" r="0.55" fill="#b5b5b5"/>
<circle cx="553.9" cy="584.3" r="0.55" fill="#b5b5b5"/>
<circle cx="551.5" cy="581.5" r="0.55" fill="#b5b5b5"/>
<circle cx="551.5" cy="578.1" r="0.55" fill="#b5b5b5"/>
<circle cx="553.9" cy="575.3" r="0.55" fill="#b5b5b5"/>
<circle cx="557.8" cy="574.2" r="0.55" fill="#b5b5b5"/>
<circle cx="561.7" cy="575.3" r="0.55" fill="#b5b5b5"/>
<circle cx="564.1" cy="578.1" r="0.55" fill="#b5b5b5"/>
<circle cx="557.8" cy="579.8" r="3.9" fill="#e2b61f"/>
<rect x="557.3" y="577.2" width="1.1" height="5.2" fill="#9a6e10"/>
<rect x="570.5" y="572.8" width="18.6" height="14.6" rx="2" fill="#101010"/>
<circle cx="586.1" cy="580.9" r="0.55" fill="#b5b5b5"/>
<circle cx="583.7" cy="583.7" r="0.55" fill="#b5b5b5"/>
<circle cx="579.8" cy="584.8" r="0.55" fill="#b5b5b5"/>
<circle cx="575.9" cy="583.7" r="0.55" fill="#b5b5b5"/>
<circle cx="573.5" cy="580.9" r="0.55" fill="#b5b5b5"/>
<circle cx="573.5" cy="577.5" r="0.55" fill="#b5b5b5"/>
<circle cx="575.9" cy="574.7" r="0.55" fill="#b5b5b5"/>
<circle cx="579.8" cy="573.6" r="0.55" fill="#b5b5b5"/>
<circle cx="583.7" cy="574.7" r="0.55" fill="#b5b5b5"/>
<circle cx="586.1" cy="577.5" r="0.55" fill="#b5b5b5"/>
<circle cx="579.8" cy="579.2" r="3.9" fill="#e2b61f"/>
<rect x="579.3" y="576.6" width="1.1" height="5.2" fill="#9a6e10"/>
<rect x="592.7" y="574.1" width="26.8" height="15.1" fill="#e0304c"/>
<rect x="592.7" y="574.1" width="26.8" height="2.2" fill="#ec6d80"/>
<rect x="595.2" y="574.4" width="2.6" height="1.6" fill="#fbe9ec"/>
<rect x="599.7" y="574.4" width="2.6" height="1.6" fill="#fbe9ec"/>
<rect x="604.2" y="574.4" width="2.6" height="1.6" fill="#fbe9ec"/>
<rect x="608.7" y="574.4" width="2.6" height="1.6" fill="#fbe9ec"/>
<rect x="613.2" y="574.4" width="2.6" height="1.6" fill="#fbe9ec"/>
<text x="595.0" y="583.2" font-size="3.2" fill="#f8c9d2" letter-spacing="2.1">12345</text>
<text x="594.6" y="587.6" font-size="3.4" font-weight="bold" fill="#f8c9d2">DIP</text>
<text x="611.6" y="587.6" font-size="3.4" font-weight="bold" fill="#f8c9d2">ON</text>
<circle cx="634" cy="584.9" r="3.0" fill="#08140c"/><circle cx="634.2" cy="585.1" r="1.7" fill="#123822"/>
</g>
<text transform="translate(764.9 679.9) rotate(-90)" font-size="8.2" textLength="60.8" lengthAdjust="spacingAndGlyphs" fill="#2a2a2a" stroke="#2a2a2a" stroke-width="0.15">ZNR. 51203 58 730</text>
</svg>

<div class="abs" style="left:80px;top:700px;width:360px;height:88.5px;overflow:hidden;">
<div class="t" style="left:12.70px;top:5.06px;font-size:14.54px;">Commutateur à décades <b>S1</b> et <b>S2</b> pour le réglage</div>
<div class="t" style="left:12.70px;top:21.56px;font-size:14.54px;">des n° de noeud (n°.nnn = 1  ..  99) resp. adresse</div>
<div class="t" style="left:12.70px;top:37.76px;font-size:14.54px;">bus CAN</div>
<div class="t" style="left:12.70px;top:62.86px;font-size:14.54px;"><b>S1:</b> 10<sup class="s">éme</sup> place due n° de noeud / adresse bus</div>
<div class="t" style="left:12.70px;top:79.36px;font-size:14.54px;">CAN</div>
</div>
<div class="abs" style="left:82.9px;top:832.7px;width:724.9px;height:38.6px;background:#dedede;"></div>
<div class="abs" style="left:82.9px;top:832.2px;width:724.9px;height:1.0px;background:#bdbdbd;"></div>
<div class="abs" style="left:82.9px;top:870.8px;width:724.9px;height:1.0px;background:#bdbdbd;"></div>
<div class="abs" style="left:82.9px;top:896.3px;width:724.9px;height:1.0px;background:#bdbdbd;"></div>
<div class="abs" style="left:82.9px;top:921.7px;width:310.5px;height:1.0px;background:#bdbdbd;"></div>
<div class="abs" style="left:82.9px;top:947.0px;width:724.9px;height:1.0px;background:#bdbdbd;"></div>
<div class="abs" style="left:82.4px;top:832.2px;width:1.0px;height:115.8px;background:#bdbdbd;"></div>
<div class="abs" style="left:186.1px;top:832.7px;width:1.0px;height:114.8px;background:#bdbdbd;"></div>
<div class="abs" style="left:289.8px;top:832.7px;width:1.0px;height:114.8px;background:#bdbdbd;"></div>
<div class="abs" style="left:392.9px;top:832.7px;width:1.0px;height:114.8px;background:#bdbdbd;"></div>
<div class="abs" style="left:807.3px;top:832.2px;width:1.0px;height:115.8px;background:#bdbdbd;"></div>
<div class="t" style="left:70.9px;width:120px;text-align:center;top:837.33px;font-size:11.75px;font-weight:bold;">S1</div>
<div class="t" style="left:73.5px;width:120px;text-align:center;top:851.23px;font-size:11.75px;font-weight:bold;">(10<sup class="s">éme</sup> place)</div>
<div class="t" style="left:175.3px;width:120px;text-align:center;top:837.33px;font-size:11.75px;font-weight:bold;">S2</div>
<div class="t" style="left:177.0px;width:120px;text-align:center;top:851.23px;font-size:11.75px;font-weight:bold;">(1<sup class="s">ére</sup> place)</div>
<div class="t" style="left:280.7px;width:120px;text-align:center;top:836.83px;font-size:11.75px;font-weight:bold;">n°.nnn coisi</div>
<div class="t" style="left:398.0px;top:836.83px;font-size:11.75px;font-weight:bold;">Fonction</div>
<div class="t" style="left:73.5px;width:120px;text-align:center;top:876.03px;font-size:11.75px;">0</div>
<div class="t" style="left:177.0px;width:120px;text-align:center;top:876.03px;font-size:11.75px;">0</div>
<div class="t" style="left:280.7px;width:120px;text-align:center;top:876.03px;font-size:11.75px;">00</div>
<div class="t" style="left:73.5px;width:120px;text-align:center;top:901.53px;font-size:11.75px;">0</div>
<div class="t" style="left:177.0px;width:120px;text-align:center;top:901.53px;font-size:11.75px;">1..9</div>
<div class="t" style="left:280.7px;width:120px;text-align:center;top:901.53px;font-size:11.75px;">01..09</div>
<div class="t" style="left:73.5px;width:120px;text-align:center;top:926.73px;font-size:11.75px;">1..9</div>
<div class="t" style="left:177.0px;width:120px;text-align:center;top:926.73px;font-size:11.75px;">0..9</div>
<div class="t" style="left:280.7px;width:120px;text-align:center;top:926.73px;font-size:11.75px;">10..99</div>
<div class="t" style="left:398.0px;top:876.23px;font-size:11.75px;">Interface de bus CAN inactive (disabled)</div>
<div class="t" style="left:398.0px;top:914.03px;font-size:11.75px;">Régulateur de poste froid : N° de noeud resp. adresse bus CAN attribué(e)</div>

<svg class="abs" style="left:70px;top:970px;" width="100" height="80" viewBox="0 0 870 696">
<path d="M375 162 L597 540 L153 540 Z" fill="#d8cc00" stroke="#d8cc00" stroke-width="28" stroke-linejoin="round"/>
<path d="M375 164 L594 538 L156 538 Z" fill="#f7e800" stroke="#f7e800" stroke-width="20" stroke-linejoin="round"/>
<path d="M375 203 L561 514 L189 514 Z" fill="#fbea00" stroke="#0d0d0d" stroke-width="28" stroke-linejoin="miter"/>
<path d="M352 302 C352 272 398 272 398 302 L386 430 C385 442 365 442 364 430 Z" fill="#0d0d0d"/>
<circle cx="375" cy="470" r="25" fill="#0d0d0d"/>
</svg>

<div class="t" style="left:157.20px;top:982.86px;font-size:14.54px;">L’UA 300 D assume les réglages du commutateur à décades S1 et S2 uniquement après que le</div>
<div class="t" style="left:157.20px;top:999.41px;font-size:14.54px;">régulateur a été mis brièvement hors tension.</div>
<div class="abs" style="left:0;top:1151px;width:870px;height:17.6px;background:#e50074;"></div>
<div class="t" style="left:83.50px;top:1151.55px;font-size:8.8px;color:#f7cfe4;">© 2007 - ECKELMANN | BERLINER STRASSE 161 | 65205 WIESBADEN | FON +49(0)611 7103-0 | FAX 49(0)611 7103-133 | eckelmann.de</div>
<div class="t" style="left:82.50px;top:1180.62px;font-size:8.9px;">Version 2.03   27. Juni 2008</div>
<div class="t" style="left:794.50px;top:1181.15px;font-size:11.7px;">29</div>
</div></body></html>
